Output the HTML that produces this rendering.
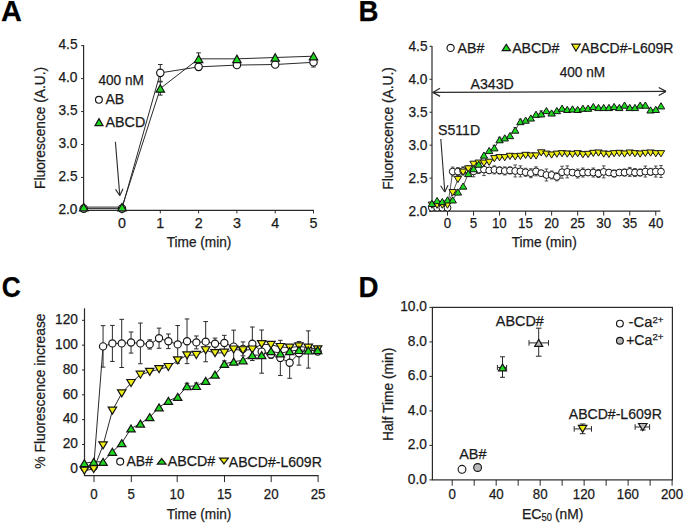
<!DOCTYPE html>
<html><head><meta charset="utf-8"><style>
html,body{margin:0;padding:0;background:#fff;}
svg{display:block;font-family:"Liberation Sans", sans-serif;}
text{stroke:#1a1a1a;stroke-width:0.25px;}
</style></head><body>
<svg width="685" height="524" viewBox="0 0 685 524">
<rect width="685" height="524" fill="#fff"/>
<text x="1.03" y="20.60" font-size="28.6" font-weight="bold" textLength="20.86" lengthAdjust="spacingAndGlyphs" fill="#000">A</text>
<line x1="83.60" y1="44.90" x2="83.60" y2="210.90" stroke="#2a2a2a" stroke-width="1.2"/>
<line x1="83.60" y1="210.40" x2="314.00" y2="210.40" stroke="#2a2a2a" stroke-width="1.2"/>
<line x1="81.10" y1="210.40" x2="83.60" y2="210.40" stroke="#2a2a2a" stroke-width="1"/>
<text x="58.43" y="214.10" font-size="14.3" font-weight="normal" textLength="19.08" lengthAdjust="spacingAndGlyphs" fill="#1a1a1a">2.0</text>
<line x1="81.10" y1="177.45" x2="83.60" y2="177.45" stroke="#2a2a2a" stroke-width="1"/>
<text x="58.47" y="181.15" font-size="14.3" font-weight="normal" textLength="19.08" lengthAdjust="spacingAndGlyphs" fill="#1a1a1a">2.5</text>
<line x1="81.10" y1="144.50" x2="83.60" y2="144.50" stroke="#2a2a2a" stroke-width="1"/>
<text x="58.43" y="148.20" font-size="14.3" font-weight="normal" textLength="19.08" lengthAdjust="spacingAndGlyphs" fill="#1a1a1a">3.0</text>
<line x1="81.10" y1="111.55" x2="83.60" y2="111.55" stroke="#2a2a2a" stroke-width="1"/>
<text x="58.47" y="115.25" font-size="14.3" font-weight="normal" textLength="19.08" lengthAdjust="spacingAndGlyphs" fill="#1a1a1a">3.5</text>
<line x1="81.10" y1="78.60" x2="83.60" y2="78.60" stroke="#2a2a2a" stroke-width="1"/>
<text x="58.43" y="82.30" font-size="14.3" font-weight="normal" textLength="19.08" lengthAdjust="spacingAndGlyphs" fill="#1a1a1a">4.0</text>
<line x1="81.10" y1="45.65" x2="83.60" y2="45.65" stroke="#2a2a2a" stroke-width="1"/>
<text x="58.47" y="49.35" font-size="14.3" font-weight="normal" textLength="19.08" lengthAdjust="spacingAndGlyphs" fill="#1a1a1a">4.5</text>
<line x1="122.00" y1="210.40" x2="122.00" y2="213.40" stroke="#2a2a2a" stroke-width="1"/>
<text x="118.01" y="227.80" font-size="14.3" font-weight="normal" textLength="7.95" lengthAdjust="spacingAndGlyphs" fill="#1a1a1a">0</text>
<line x1="160.30" y1="210.40" x2="160.30" y2="213.40" stroke="#2a2a2a" stroke-width="1"/>
<text x="156.14" y="227.80" font-size="14.3" font-weight="normal" textLength="7.95" lengthAdjust="spacingAndGlyphs" fill="#1a1a1a">1</text>
<line x1="198.60" y1="210.40" x2="198.60" y2="213.40" stroke="#2a2a2a" stroke-width="1"/>
<text x="194.63" y="227.80" font-size="14.3" font-weight="normal" textLength="7.95" lengthAdjust="spacingAndGlyphs" fill="#1a1a1a">2</text>
<line x1="236.90" y1="210.40" x2="236.90" y2="213.40" stroke="#2a2a2a" stroke-width="1"/>
<text x="232.97" y="227.80" font-size="14.3" font-weight="normal" textLength="7.95" lengthAdjust="spacingAndGlyphs" fill="#1a1a1a">3</text>
<line x1="275.20" y1="210.40" x2="275.20" y2="213.40" stroke="#2a2a2a" stroke-width="1"/>
<text x="271.27" y="227.80" font-size="14.3" font-weight="normal" textLength="7.95" lengthAdjust="spacingAndGlyphs" fill="#1a1a1a">4</text>
<line x1="313.50" y1="210.40" x2="313.50" y2="213.40" stroke="#2a2a2a" stroke-width="1"/>
<text x="309.53" y="227.80" font-size="14.3" font-weight="normal" textLength="7.95" lengthAdjust="spacingAndGlyphs" fill="#1a1a1a">5</text>
<text x="166.69" y="246.80" font-size="14.3" font-weight="normal" textLength="64.73" lengthAdjust="spacingAndGlyphs" fill="#1a1a1a">Time (min)</text>
<text transform="translate(45.00,188.93) rotate(-90)" x="0" y="0" font-size="14.3" font-weight="normal" textLength="122.05" lengthAdjust="spacingAndGlyphs" fill="#1a1a1a">Fluorescence (A.U.)</text>
<polyline points="83.70,208.62 122.00,208.62 160.30,72.87 198.60,66.87 236.90,65.09 275.20,64.50 313.50,62.32" fill="none" stroke="#2a2a2a" stroke-width="1" stroke-linejoin="round"/>
<polyline points="83.70,207.11 122.00,207.11 160.30,88.48 198.60,58.83 236.90,58.83 275.20,57.51 313.50,56.19" fill="none" stroke="#2a2a2a" stroke-width="1" stroke-linejoin="round"/>
<line x1="160.30" y1="64.47" x2="160.30" y2="81.27" stroke="#2a2a2a" stroke-width="1"/>
<line x1="158.00" y1="64.47" x2="162.60" y2="64.47" stroke="#2a2a2a" stroke-width="1"/>
<line x1="158.00" y1="81.27" x2="162.60" y2="81.27" stroke="#2a2a2a" stroke-width="1"/>
<line x1="160.30" y1="81.88" x2="160.30" y2="95.08" stroke="#2a2a2a" stroke-width="1"/>
<line x1="158.00" y1="81.88" x2="162.60" y2="81.88" stroke="#2a2a2a" stroke-width="1"/>
<line x1="158.00" y1="95.08" x2="162.60" y2="95.08" stroke="#2a2a2a" stroke-width="1"/>
<line x1="198.60" y1="52.83" x2="198.60" y2="64.83" stroke="#2a2a2a" stroke-width="1"/>
<line x1="196.30" y1="52.83" x2="200.90" y2="52.83" stroke="#2a2a2a" stroke-width="1"/>
<line x1="196.30" y1="64.83" x2="200.90" y2="64.83" stroke="#2a2a2a" stroke-width="1"/>
<line x1="198.60" y1="63.87" x2="198.60" y2="69.87" stroke="#2a2a2a" stroke-width="1"/>
<line x1="196.30" y1="63.87" x2="200.90" y2="63.87" stroke="#2a2a2a" stroke-width="1"/>
<line x1="196.30" y1="69.87" x2="200.90" y2="69.87" stroke="#2a2a2a" stroke-width="1"/>
<line x1="313.50" y1="57.62" x2="313.50" y2="67.02" stroke="#2a2a2a" stroke-width="1"/>
<line x1="311.20" y1="57.62" x2="315.80" y2="57.62" stroke="#2a2a2a" stroke-width="1"/>
<line x1="311.20" y1="67.02" x2="315.80" y2="67.02" stroke="#2a2a2a" stroke-width="1"/>
<circle cx="83.70" cy="208.62" r="3.7" fill="#fff" stroke="#151515" stroke-width="1.15"/>
<circle cx="122.00" cy="208.62" r="3.7" fill="#fff" stroke="#151515" stroke-width="1.15"/>
<circle cx="160.30" cy="72.87" r="3.7" fill="#fff" stroke="#151515" stroke-width="1.15"/>
<circle cx="198.60" cy="66.87" r="3.7" fill="#fff" stroke="#151515" stroke-width="1.15"/>
<circle cx="236.90" cy="65.09" r="3.7" fill="#fff" stroke="#151515" stroke-width="1.15"/>
<circle cx="275.20" cy="64.50" r="3.7" fill="#fff" stroke="#151515" stroke-width="1.15"/>
<circle cx="313.50" cy="62.32" r="3.7" fill="#fff" stroke="#151515" stroke-width="1.15"/>
<polygon points="83.70,203.41 87.90,210.81 79.50,210.81" fill="#1fd81f" stroke="#151515" stroke-width="1.2" stroke-linejoin="miter"/>
<polygon points="122.00,203.41 126.20,210.81 117.80,210.81" fill="#1fd81f" stroke="#151515" stroke-width="1.2" stroke-linejoin="miter"/>
<polygon points="160.30,84.78 164.50,92.18 156.10,92.18" fill="#1fd81f" stroke="#151515" stroke-width="1.2" stroke-linejoin="miter"/>
<polygon points="198.60,55.13 202.80,62.53 194.40,62.53" fill="#1fd81f" stroke="#151515" stroke-width="1.2" stroke-linejoin="miter"/>
<polygon points="236.90,55.13 241.10,62.53 232.70,62.53" fill="#1fd81f" stroke="#151515" stroke-width="1.2" stroke-linejoin="miter"/>
<polygon points="275.20,53.81 279.40,61.21 271.00,61.21" fill="#1fd81f" stroke="#151515" stroke-width="1.2" stroke-linejoin="miter"/>
<polygon points="313.50,52.49 317.70,59.89 309.30,59.89" fill="#1fd81f" stroke="#151515" stroke-width="1.2" stroke-linejoin="miter"/>
<text x="98.39" y="84.90" font-size="14.3" font-weight="normal" textLength="45.44" lengthAdjust="spacingAndGlyphs" fill="#1a1a1a">400 nM</text>
<circle cx="98.90" cy="99.80" r="3.4" fill="#fff" stroke="#151515" stroke-width="1.15"/>
<text x="105.46" y="103.80" font-size="14.3" font-weight="normal" textLength="18.76" lengthAdjust="spacingAndGlyphs" fill="#1a1a1a">AB</text>
<polygon points="99.00,118.60 103.00,125.60 95.00,125.60" fill="#1fd81f" stroke="#151515" stroke-width="1.2" stroke-linejoin="miter"/>
<text x="105.46" y="127.00" font-size="14.3" font-weight="normal" textLength="39.83" lengthAdjust="spacingAndGlyphs" fill="#1a1a1a">ABCD</text>
<line x1="115.40" y1="141.70" x2="119.80" y2="195.60" stroke="#2a2a2a" stroke-width="1.1"/>
<line x1="119.80" y1="195.60" x2="115.53" y2="189.43" stroke="#2a2a2a" stroke-width="1.1"/>
<line x1="119.80" y1="195.60" x2="123.01" y2="188.82" stroke="#2a2a2a" stroke-width="1.1"/>
<text x="358.43" y="20.80" font-size="28.6" font-weight="bold" textLength="20.01" lengthAdjust="spacingAndGlyphs" fill="#000">B</text>
<line x1="432.00" y1="46.10" x2="432.00" y2="211.60" stroke="#2a2a2a" stroke-width="1.2"/>
<line x1="429.00" y1="211.10" x2="660.50" y2="211.10" stroke="#2a2a2a" stroke-width="1.2"/>
<line x1="429.50" y1="211.10" x2="432.00" y2="211.10" stroke="#2a2a2a" stroke-width="1"/>
<text x="408.43" y="216.10" font-size="14.3" font-weight="normal" textLength="19.08" lengthAdjust="spacingAndGlyphs" fill="#1a1a1a">2.0</text>
<line x1="429.50" y1="178.14" x2="432.00" y2="178.14" stroke="#2a2a2a" stroke-width="1"/>
<text x="408.47" y="183.14" font-size="14.3" font-weight="normal" textLength="19.08" lengthAdjust="spacingAndGlyphs" fill="#1a1a1a">2.5</text>
<line x1="429.50" y1="145.18" x2="432.00" y2="145.18" stroke="#2a2a2a" stroke-width="1"/>
<text x="408.43" y="150.18" font-size="14.3" font-weight="normal" textLength="19.08" lengthAdjust="spacingAndGlyphs" fill="#1a1a1a">3.0</text>
<line x1="429.50" y1="112.22" x2="432.00" y2="112.22" stroke="#2a2a2a" stroke-width="1"/>
<text x="408.47" y="117.22" font-size="14.3" font-weight="normal" textLength="19.08" lengthAdjust="spacingAndGlyphs" fill="#1a1a1a">3.5</text>
<line x1="429.50" y1="79.26" x2="432.00" y2="79.26" stroke="#2a2a2a" stroke-width="1"/>
<text x="408.43" y="84.26" font-size="14.3" font-weight="normal" textLength="19.08" lengthAdjust="spacingAndGlyphs" fill="#1a1a1a">4.0</text>
<line x1="429.50" y1="46.30" x2="432.00" y2="46.30" stroke="#2a2a2a" stroke-width="1"/>
<text x="408.47" y="51.30" font-size="14.3" font-weight="normal" textLength="19.08" lengthAdjust="spacingAndGlyphs" fill="#1a1a1a">4.5</text>
<line x1="447.50" y1="211.10" x2="447.50" y2="215.60" stroke="#2a2a2a" stroke-width="1"/>
<text x="443.79" y="227.80" font-size="14.3" font-weight="normal" textLength="7.40" lengthAdjust="spacingAndGlyphs" fill="#1a1a1a">0</text>
<line x1="473.54" y1="211.10" x2="473.54" y2="215.60" stroke="#2a2a2a" stroke-width="1"/>
<text x="469.84" y="227.80" font-size="14.3" font-weight="normal" textLength="7.40" lengthAdjust="spacingAndGlyphs" fill="#1a1a1a">5</text>
<line x1="499.57" y1="211.10" x2="499.57" y2="215.60" stroke="#2a2a2a" stroke-width="1"/>
<text x="491.94" y="227.80" font-size="14.3" font-weight="normal" textLength="14.79" lengthAdjust="spacingAndGlyphs" fill="#1a1a1a">10</text>
<line x1="525.61" y1="211.10" x2="525.61" y2="215.60" stroke="#2a2a2a" stroke-width="1"/>
<text x="517.99" y="227.80" font-size="14.3" font-weight="normal" textLength="14.79" lengthAdjust="spacingAndGlyphs" fill="#1a1a1a">15</text>
<line x1="551.64" y1="211.10" x2="551.64" y2="215.60" stroke="#2a2a2a" stroke-width="1"/>
<text x="544.18" y="227.80" font-size="14.3" font-weight="normal" textLength="14.79" lengthAdjust="spacingAndGlyphs" fill="#1a1a1a">20</text>
<line x1="577.67" y1="211.10" x2="577.67" y2="215.60" stroke="#2a2a2a" stroke-width="1"/>
<text x="570.23" y="227.80" font-size="14.3" font-weight="normal" textLength="14.79" lengthAdjust="spacingAndGlyphs" fill="#1a1a1a">25</text>
<line x1="603.71" y1="211.10" x2="603.71" y2="215.60" stroke="#2a2a2a" stroke-width="1"/>
<text x="596.33" y="227.80" font-size="14.3" font-weight="normal" textLength="14.79" lengthAdjust="spacingAndGlyphs" fill="#1a1a1a">30</text>
<line x1="629.75" y1="211.10" x2="629.75" y2="215.60" stroke="#2a2a2a" stroke-width="1"/>
<text x="622.38" y="227.80" font-size="14.3" font-weight="normal" textLength="14.79" lengthAdjust="spacingAndGlyphs" fill="#1a1a1a">35</text>
<line x1="655.78" y1="211.10" x2="655.78" y2="215.60" stroke="#2a2a2a" stroke-width="1"/>
<text x="648.50" y="227.80" font-size="14.3" font-weight="normal" textLength="14.79" lengthAdjust="spacingAndGlyphs" fill="#1a1a1a">40</text>
<text x="511.69" y="246.70" font-size="14.3" font-weight="normal" textLength="65.14" lengthAdjust="spacingAndGlyphs" fill="#1a1a1a">Time (min)</text>
<text transform="translate(393.30,189.74) rotate(-90)" x="0" y="0" font-size="14.3" font-weight="normal" textLength="122.66" lengthAdjust="spacingAndGlyphs" fill="#1a1a1a">Fluorescence (A.U.)</text>
<polyline points="431.88,207.80 437.09,207.80 442.29,207.80 447.50,207.80 452.71,171.55 457.91,171.55 463.12,170.89 468.33,170.23 473.54,171.35 478.74,169.57 483.95,169.57 489.16,170.43 494.36,169.90 499.57,170.43 504.78,170.95 509.98,170.43 515.19,170.95 520.40,171.35 525.61,172.27 530.81,173.20 536.02,171.35 541.23,173.20 546.43,174.98 551.64,174.98 556.85,176.82 562.05,172.21 567.26,171.88 572.47,172.54 577.67,173.53 582.88,172.54 588.09,172.54 593.30,172.54 598.50,173.53 603.71,171.88 608.92,172.54 614.12,173.53 619.33,172.54 624.54,172.54 629.75,171.88 634.95,172.54 640.16,172.54 645.37,171.55 650.57,171.88 655.78,171.55 660.99,171.55" fill="none" stroke="#2a2a2a" stroke-width="0.8" stroke-linejoin="round"/>
<polyline points="431.88,205.17 437.09,205.17 442.29,205.17 447.50,205.17 452.71,192.64 457.91,179.46 463.12,172.21 468.33,168.91 473.54,164.30 478.74,163.18 483.95,163.18 489.16,162.32 494.36,158.69 499.57,157.70 504.78,157.70 509.98,156.39 515.19,156.78 520.40,156.39 525.61,155.40 530.81,155.99 536.02,155.99 541.23,152.89 546.43,154.21 551.64,155.07 556.85,154.21 562.05,153.75 567.26,154.08 572.47,154.41 577.67,153.75 582.88,154.74 588.09,154.41 593.30,153.42 598.50,153.09 603.71,154.08 608.92,154.41 614.12,153.75 619.33,153.42 624.54,154.08 629.75,153.09 634.95,153.75 640.16,154.08 645.37,153.42 650.57,153.09 655.78,153.75 660.99,153.75" fill="none" stroke="#2a2a2a" stroke-width="0.8" stroke-linejoin="round"/>
<polyline points="431.88,203.39 437.09,200.55 442.29,201.54 447.50,199.89 452.71,199.89 457.91,191.98 463.12,186.05 468.33,173.53 473.54,168.65 478.74,164.16 483.95,155.07 489.16,150.52 494.36,147.82 499.57,139.71 504.78,137.86 509.98,135.56 515.19,130.08 520.40,121.58 525.61,120.13 530.81,117.96 536.02,114.26 541.23,113.80 546.43,110.57 551.64,112.95 556.85,110.57 562.05,108.20 567.26,109.39 572.47,108.92 577.67,109.39 582.88,108.20 588.09,108.20 593.30,106.48 598.50,107.47 603.71,107.47 608.92,107.47 614.12,106.48 619.33,107.47 624.54,105.10 629.75,107.47 634.95,107.47 640.16,105.10 645.37,105.10 650.57,109.91 655.78,109.39 660.99,105.83" fill="none" stroke="#2a2a2a" stroke-width="0.8" stroke-linejoin="round"/>
<line x1="452.71" y1="167.05" x2="452.71" y2="176.05" stroke="#2a2a2a" stroke-width="0.8"/>
<line x1="450.91" y1="167.05" x2="454.51" y2="167.05" stroke="#2a2a2a" stroke-width="0.8"/>
<line x1="450.91" y1="176.05" x2="454.51" y2="176.05" stroke="#2a2a2a" stroke-width="0.8"/>
<line x1="457.91" y1="167.55" x2="457.91" y2="175.55" stroke="#2a2a2a" stroke-width="0.8"/>
<line x1="456.11" y1="167.55" x2="459.71" y2="167.55" stroke="#2a2a2a" stroke-width="0.8"/>
<line x1="456.11" y1="175.55" x2="459.71" y2="175.55" stroke="#2a2a2a" stroke-width="0.8"/>
<line x1="463.12" y1="166.89" x2="463.12" y2="174.89" stroke="#2a2a2a" stroke-width="0.8"/>
<line x1="461.32" y1="166.89" x2="464.92" y2="166.89" stroke="#2a2a2a" stroke-width="0.8"/>
<line x1="461.32" y1="174.89" x2="464.92" y2="174.89" stroke="#2a2a2a" stroke-width="0.8"/>
<line x1="468.33" y1="165.73" x2="468.33" y2="174.73" stroke="#2a2a2a" stroke-width="0.8"/>
<line x1="466.53" y1="165.73" x2="470.13" y2="165.73" stroke="#2a2a2a" stroke-width="0.8"/>
<line x1="466.53" y1="174.73" x2="470.13" y2="174.73" stroke="#2a2a2a" stroke-width="0.8"/>
<line x1="473.54" y1="165.85" x2="473.54" y2="176.85" stroke="#2a2a2a" stroke-width="0.8"/>
<line x1="471.74" y1="165.85" x2="475.34" y2="165.85" stroke="#2a2a2a" stroke-width="0.8"/>
<line x1="471.74" y1="176.85" x2="475.34" y2="176.85" stroke="#2a2a2a" stroke-width="0.8"/>
<line x1="478.74" y1="165.57" x2="478.74" y2="173.57" stroke="#2a2a2a" stroke-width="0.8"/>
<line x1="476.94" y1="165.57" x2="480.54" y2="165.57" stroke="#2a2a2a" stroke-width="0.8"/>
<line x1="476.94" y1="173.57" x2="480.54" y2="173.57" stroke="#2a2a2a" stroke-width="0.8"/>
<line x1="483.95" y1="163.57" x2="483.95" y2="175.57" stroke="#2a2a2a" stroke-width="0.8"/>
<line x1="482.15" y1="163.57" x2="485.75" y2="163.57" stroke="#2a2a2a" stroke-width="0.8"/>
<line x1="482.15" y1="175.57" x2="485.75" y2="175.57" stroke="#2a2a2a" stroke-width="0.8"/>
<line x1="489.16" y1="167.43" x2="489.16" y2="173.43" stroke="#2a2a2a" stroke-width="0.8"/>
<line x1="487.36" y1="167.43" x2="490.96" y2="167.43" stroke="#2a2a2a" stroke-width="0.8"/>
<line x1="487.36" y1="173.43" x2="490.96" y2="173.43" stroke="#2a2a2a" stroke-width="0.8"/>
<line x1="494.36" y1="165.90" x2="494.36" y2="173.90" stroke="#2a2a2a" stroke-width="0.8"/>
<line x1="492.56" y1="165.90" x2="496.16" y2="165.90" stroke="#2a2a2a" stroke-width="0.8"/>
<line x1="492.56" y1="173.90" x2="496.16" y2="173.90" stroke="#2a2a2a" stroke-width="0.8"/>
<line x1="499.57" y1="166.93" x2="499.57" y2="173.93" stroke="#2a2a2a" stroke-width="0.8"/>
<line x1="497.77" y1="166.93" x2="501.37" y2="166.93" stroke="#2a2a2a" stroke-width="0.8"/>
<line x1="497.77" y1="173.93" x2="501.37" y2="173.93" stroke="#2a2a2a" stroke-width="0.8"/>
<line x1="504.78" y1="166.95" x2="504.78" y2="174.95" stroke="#2a2a2a" stroke-width="0.8"/>
<line x1="502.98" y1="166.95" x2="506.58" y2="166.95" stroke="#2a2a2a" stroke-width="0.8"/>
<line x1="502.98" y1="174.95" x2="506.58" y2="174.95" stroke="#2a2a2a" stroke-width="0.8"/>
<line x1="509.98" y1="166.93" x2="509.98" y2="173.93" stroke="#2a2a2a" stroke-width="0.8"/>
<line x1="508.18" y1="166.93" x2="511.78" y2="166.93" stroke="#2a2a2a" stroke-width="0.8"/>
<line x1="508.18" y1="173.93" x2="511.78" y2="173.93" stroke="#2a2a2a" stroke-width="0.8"/>
<line x1="515.19" y1="164.95" x2="515.19" y2="176.95" stroke="#2a2a2a" stroke-width="0.8"/>
<line x1="513.39" y1="164.95" x2="516.99" y2="164.95" stroke="#2a2a2a" stroke-width="0.8"/>
<line x1="513.39" y1="176.95" x2="516.99" y2="176.95" stroke="#2a2a2a" stroke-width="0.8"/>
<line x1="520.40" y1="165.85" x2="520.40" y2="176.85" stroke="#2a2a2a" stroke-width="0.8"/>
<line x1="518.60" y1="165.85" x2="522.20" y2="165.85" stroke="#2a2a2a" stroke-width="0.8"/>
<line x1="518.60" y1="176.85" x2="522.20" y2="176.85" stroke="#2a2a2a" stroke-width="0.8"/>
<line x1="525.61" y1="168.27" x2="525.61" y2="176.27" stroke="#2a2a2a" stroke-width="0.8"/>
<line x1="523.81" y1="168.27" x2="527.40" y2="168.27" stroke="#2a2a2a" stroke-width="0.8"/>
<line x1="523.81" y1="176.27" x2="527.40" y2="176.27" stroke="#2a2a2a" stroke-width="0.8"/>
<line x1="530.81" y1="168.70" x2="530.81" y2="177.70" stroke="#2a2a2a" stroke-width="0.8"/>
<line x1="529.01" y1="168.70" x2="532.61" y2="168.70" stroke="#2a2a2a" stroke-width="0.8"/>
<line x1="529.01" y1="177.70" x2="532.61" y2="177.70" stroke="#2a2a2a" stroke-width="0.8"/>
<line x1="536.02" y1="166.85" x2="536.02" y2="175.85" stroke="#2a2a2a" stroke-width="0.8"/>
<line x1="534.22" y1="166.85" x2="537.82" y2="166.85" stroke="#2a2a2a" stroke-width="0.8"/>
<line x1="534.22" y1="175.85" x2="537.82" y2="175.85" stroke="#2a2a2a" stroke-width="0.8"/>
<line x1="541.23" y1="170.20" x2="541.23" y2="176.20" stroke="#2a2a2a" stroke-width="0.8"/>
<line x1="539.43" y1="170.20" x2="543.03" y2="170.20" stroke="#2a2a2a" stroke-width="0.8"/>
<line x1="539.43" y1="176.20" x2="543.03" y2="176.20" stroke="#2a2a2a" stroke-width="0.8"/>
<line x1="546.43" y1="168.98" x2="546.43" y2="180.98" stroke="#2a2a2a" stroke-width="0.8"/>
<line x1="544.63" y1="168.98" x2="548.23" y2="168.98" stroke="#2a2a2a" stroke-width="0.8"/>
<line x1="544.63" y1="180.98" x2="548.23" y2="180.98" stroke="#2a2a2a" stroke-width="0.8"/>
<line x1="551.64" y1="170.98" x2="551.64" y2="178.98" stroke="#2a2a2a" stroke-width="0.8"/>
<line x1="549.84" y1="170.98" x2="553.44" y2="170.98" stroke="#2a2a2a" stroke-width="0.8"/>
<line x1="549.84" y1="178.98" x2="553.44" y2="178.98" stroke="#2a2a2a" stroke-width="0.8"/>
<line x1="556.85" y1="172.82" x2="556.85" y2="180.82" stroke="#2a2a2a" stroke-width="0.8"/>
<line x1="555.05" y1="172.82" x2="558.65" y2="172.82" stroke="#2a2a2a" stroke-width="0.8"/>
<line x1="555.05" y1="180.82" x2="558.65" y2="180.82" stroke="#2a2a2a" stroke-width="0.8"/>
<line x1="562.05" y1="166.21" x2="562.05" y2="178.21" stroke="#2a2a2a" stroke-width="0.8"/>
<line x1="560.25" y1="166.21" x2="563.85" y2="166.21" stroke="#2a2a2a" stroke-width="0.8"/>
<line x1="560.25" y1="178.21" x2="563.85" y2="178.21" stroke="#2a2a2a" stroke-width="0.8"/>
<line x1="567.26" y1="165.88" x2="567.26" y2="177.88" stroke="#2a2a2a" stroke-width="0.8"/>
<line x1="565.46" y1="165.88" x2="569.06" y2="165.88" stroke="#2a2a2a" stroke-width="0.8"/>
<line x1="565.46" y1="177.88" x2="569.06" y2="177.88" stroke="#2a2a2a" stroke-width="0.8"/>
<line x1="572.47" y1="169.54" x2="572.47" y2="175.54" stroke="#2a2a2a" stroke-width="0.8"/>
<line x1="570.67" y1="169.54" x2="574.27" y2="169.54" stroke="#2a2a2a" stroke-width="0.8"/>
<line x1="570.67" y1="175.54" x2="574.27" y2="175.54" stroke="#2a2a2a" stroke-width="0.8"/>
<line x1="577.67" y1="169.03" x2="577.67" y2="178.03" stroke="#2a2a2a" stroke-width="0.8"/>
<line x1="575.88" y1="169.03" x2="579.47" y2="169.03" stroke="#2a2a2a" stroke-width="0.8"/>
<line x1="575.88" y1="178.03" x2="579.47" y2="178.03" stroke="#2a2a2a" stroke-width="0.8"/>
<line x1="582.88" y1="168.04" x2="582.88" y2="177.04" stroke="#2a2a2a" stroke-width="0.8"/>
<line x1="581.08" y1="168.04" x2="584.68" y2="168.04" stroke="#2a2a2a" stroke-width="0.8"/>
<line x1="581.08" y1="177.04" x2="584.68" y2="177.04" stroke="#2a2a2a" stroke-width="0.8"/>
<line x1="588.09" y1="169.54" x2="588.09" y2="175.54" stroke="#2a2a2a" stroke-width="0.8"/>
<line x1="586.29" y1="169.54" x2="589.89" y2="169.54" stroke="#2a2a2a" stroke-width="0.8"/>
<line x1="586.29" y1="175.54" x2="589.89" y2="175.54" stroke="#2a2a2a" stroke-width="0.8"/>
<line x1="593.30" y1="168.04" x2="593.30" y2="177.04" stroke="#2a2a2a" stroke-width="0.8"/>
<line x1="591.50" y1="168.04" x2="595.10" y2="168.04" stroke="#2a2a2a" stroke-width="0.8"/>
<line x1="591.50" y1="177.04" x2="595.10" y2="177.04" stroke="#2a2a2a" stroke-width="0.8"/>
<line x1="598.50" y1="169.53" x2="598.50" y2="177.53" stroke="#2a2a2a" stroke-width="0.8"/>
<line x1="596.70" y1="169.53" x2="600.30" y2="169.53" stroke="#2a2a2a" stroke-width="0.8"/>
<line x1="596.70" y1="177.53" x2="600.30" y2="177.53" stroke="#2a2a2a" stroke-width="0.8"/>
<line x1="603.71" y1="165.88" x2="603.71" y2="177.88" stroke="#2a2a2a" stroke-width="0.8"/>
<line x1="601.91" y1="165.88" x2="605.51" y2="165.88" stroke="#2a2a2a" stroke-width="0.8"/>
<line x1="601.91" y1="177.88" x2="605.51" y2="177.88" stroke="#2a2a2a" stroke-width="0.8"/>
<line x1="608.92" y1="169.54" x2="608.92" y2="175.54" stroke="#2a2a2a" stroke-width="0.8"/>
<line x1="607.12" y1="169.54" x2="610.72" y2="169.54" stroke="#2a2a2a" stroke-width="0.8"/>
<line x1="607.12" y1="175.54" x2="610.72" y2="175.54" stroke="#2a2a2a" stroke-width="0.8"/>
<line x1="614.12" y1="170.03" x2="614.12" y2="177.03" stroke="#2a2a2a" stroke-width="0.8"/>
<line x1="612.32" y1="170.03" x2="615.92" y2="170.03" stroke="#2a2a2a" stroke-width="0.8"/>
<line x1="612.32" y1="177.03" x2="615.92" y2="177.03" stroke="#2a2a2a" stroke-width="0.8"/>
<line x1="619.33" y1="169.54" x2="619.33" y2="175.54" stroke="#2a2a2a" stroke-width="0.8"/>
<line x1="617.53" y1="169.54" x2="621.13" y2="169.54" stroke="#2a2a2a" stroke-width="0.8"/>
<line x1="617.53" y1="175.54" x2="621.13" y2="175.54" stroke="#2a2a2a" stroke-width="0.8"/>
<line x1="624.54" y1="169.04" x2="624.54" y2="176.04" stroke="#2a2a2a" stroke-width="0.8"/>
<line x1="622.74" y1="169.04" x2="626.34" y2="169.04" stroke="#2a2a2a" stroke-width="0.8"/>
<line x1="622.74" y1="176.04" x2="626.34" y2="176.04" stroke="#2a2a2a" stroke-width="0.8"/>
<line x1="629.75" y1="167.38" x2="629.75" y2="176.38" stroke="#2a2a2a" stroke-width="0.8"/>
<line x1="627.95" y1="167.38" x2="631.54" y2="167.38" stroke="#2a2a2a" stroke-width="0.8"/>
<line x1="627.95" y1="176.38" x2="631.54" y2="176.38" stroke="#2a2a2a" stroke-width="0.8"/>
<line x1="634.95" y1="168.54" x2="634.95" y2="176.54" stroke="#2a2a2a" stroke-width="0.8"/>
<line x1="633.15" y1="168.54" x2="636.75" y2="168.54" stroke="#2a2a2a" stroke-width="0.8"/>
<line x1="633.15" y1="176.54" x2="636.75" y2="176.54" stroke="#2a2a2a" stroke-width="0.8"/>
<line x1="640.16" y1="169.04" x2="640.16" y2="176.04" stroke="#2a2a2a" stroke-width="0.8"/>
<line x1="638.36" y1="169.04" x2="641.96" y2="169.04" stroke="#2a2a2a" stroke-width="0.8"/>
<line x1="638.36" y1="176.04" x2="641.96" y2="176.04" stroke="#2a2a2a" stroke-width="0.8"/>
<line x1="645.37" y1="166.05" x2="645.37" y2="177.05" stroke="#2a2a2a" stroke-width="0.8"/>
<line x1="643.57" y1="166.05" x2="647.17" y2="166.05" stroke="#2a2a2a" stroke-width="0.8"/>
<line x1="643.57" y1="177.05" x2="647.17" y2="177.05" stroke="#2a2a2a" stroke-width="0.8"/>
<line x1="650.57" y1="168.38" x2="650.57" y2="175.38" stroke="#2a2a2a" stroke-width="0.8"/>
<line x1="648.77" y1="168.38" x2="652.37" y2="168.38" stroke="#2a2a2a" stroke-width="0.8"/>
<line x1="648.77" y1="175.38" x2="652.37" y2="175.38" stroke="#2a2a2a" stroke-width="0.8"/>
<line x1="655.78" y1="166.05" x2="655.78" y2="177.05" stroke="#2a2a2a" stroke-width="0.8"/>
<line x1="653.98" y1="166.05" x2="657.58" y2="166.05" stroke="#2a2a2a" stroke-width="0.8"/>
<line x1="653.98" y1="177.05" x2="657.58" y2="177.05" stroke="#2a2a2a" stroke-width="0.8"/>
<line x1="660.99" y1="165.55" x2="660.99" y2="177.55" stroke="#2a2a2a" stroke-width="0.8"/>
<line x1="659.19" y1="165.55" x2="662.79" y2="165.55" stroke="#2a2a2a" stroke-width="0.8"/>
<line x1="659.19" y1="177.55" x2="662.79" y2="177.55" stroke="#2a2a2a" stroke-width="0.8"/>
<line x1="494.36" y1="145.32" x2="494.36" y2="150.32" stroke="#2a2a2a" stroke-width="0.8"/>
<line x1="492.56" y1="145.32" x2="496.16" y2="145.32" stroke="#2a2a2a" stroke-width="0.8"/>
<line x1="492.56" y1="150.32" x2="496.16" y2="150.32" stroke="#2a2a2a" stroke-width="0.8"/>
<line x1="499.57" y1="137.21" x2="499.57" y2="142.21" stroke="#2a2a2a" stroke-width="0.8"/>
<line x1="497.77" y1="137.21" x2="501.37" y2="137.21" stroke="#2a2a2a" stroke-width="0.8"/>
<line x1="497.77" y1="142.21" x2="501.37" y2="142.21" stroke="#2a2a2a" stroke-width="0.8"/>
<line x1="515.19" y1="127.58" x2="515.19" y2="132.58" stroke="#2a2a2a" stroke-width="0.8"/>
<line x1="513.39" y1="127.58" x2="516.99" y2="127.58" stroke="#2a2a2a" stroke-width="0.8"/>
<line x1="513.39" y1="132.58" x2="516.99" y2="132.58" stroke="#2a2a2a" stroke-width="0.8"/>
<line x1="520.40" y1="119.08" x2="520.40" y2="124.08" stroke="#2a2a2a" stroke-width="0.8"/>
<line x1="518.60" y1="119.08" x2="522.20" y2="119.08" stroke="#2a2a2a" stroke-width="0.8"/>
<line x1="518.60" y1="124.08" x2="522.20" y2="124.08" stroke="#2a2a2a" stroke-width="0.8"/>
<line x1="541.23" y1="110.80" x2="541.23" y2="116.80" stroke="#2a2a2a" stroke-width="0.8"/>
<line x1="539.43" y1="110.80" x2="543.03" y2="110.80" stroke="#2a2a2a" stroke-width="0.8"/>
<line x1="539.43" y1="116.80" x2="543.03" y2="116.80" stroke="#2a2a2a" stroke-width="0.8"/>
<circle cx="431.88" cy="207.80" r="3.4" fill="#fff" stroke="#151515" stroke-width="1.0"/>
<circle cx="437.09" cy="207.80" r="3.4" fill="#fff" stroke="#151515" stroke-width="1.0"/>
<circle cx="442.29" cy="207.80" r="3.4" fill="#fff" stroke="#151515" stroke-width="1.0"/>
<circle cx="447.50" cy="207.80" r="3.4" fill="#fff" stroke="#151515" stroke-width="1.0"/>
<circle cx="452.71" cy="171.55" r="3.4" fill="#fff" stroke="#151515" stroke-width="1.0"/>
<circle cx="457.91" cy="171.55" r="3.4" fill="#fff" stroke="#151515" stroke-width="1.0"/>
<circle cx="463.12" cy="170.89" r="3.4" fill="#fff" stroke="#151515" stroke-width="1.0"/>
<circle cx="468.33" cy="170.23" r="3.4" fill="#fff" stroke="#151515" stroke-width="1.0"/>
<circle cx="473.54" cy="171.35" r="3.4" fill="#fff" stroke="#151515" stroke-width="1.0"/>
<circle cx="478.74" cy="169.57" r="3.4" fill="#fff" stroke="#151515" stroke-width="1.0"/>
<circle cx="483.95" cy="169.57" r="3.4" fill="#fff" stroke="#151515" stroke-width="1.0"/>
<circle cx="489.16" cy="170.43" r="3.4" fill="#fff" stroke="#151515" stroke-width="1.0"/>
<circle cx="494.36" cy="169.90" r="3.4" fill="#fff" stroke="#151515" stroke-width="1.0"/>
<circle cx="499.57" cy="170.43" r="3.4" fill="#fff" stroke="#151515" stroke-width="1.0"/>
<circle cx="504.78" cy="170.95" r="3.4" fill="#fff" stroke="#151515" stroke-width="1.0"/>
<circle cx="509.98" cy="170.43" r="3.4" fill="#fff" stroke="#151515" stroke-width="1.0"/>
<circle cx="515.19" cy="170.95" r="3.4" fill="#fff" stroke="#151515" stroke-width="1.0"/>
<circle cx="520.40" cy="171.35" r="3.4" fill="#fff" stroke="#151515" stroke-width="1.0"/>
<circle cx="525.61" cy="172.27" r="3.4" fill="#fff" stroke="#151515" stroke-width="1.0"/>
<circle cx="530.81" cy="173.20" r="3.4" fill="#fff" stroke="#151515" stroke-width="1.0"/>
<circle cx="536.02" cy="171.35" r="3.4" fill="#fff" stroke="#151515" stroke-width="1.0"/>
<circle cx="541.23" cy="173.20" r="3.4" fill="#fff" stroke="#151515" stroke-width="1.0"/>
<circle cx="546.43" cy="174.98" r="3.4" fill="#fff" stroke="#151515" stroke-width="1.0"/>
<circle cx="551.64" cy="174.98" r="3.4" fill="#fff" stroke="#151515" stroke-width="1.0"/>
<circle cx="556.85" cy="176.82" r="3.4" fill="#fff" stroke="#151515" stroke-width="1.0"/>
<circle cx="562.05" cy="172.21" r="3.4" fill="#fff" stroke="#151515" stroke-width="1.0"/>
<circle cx="567.26" cy="171.88" r="3.4" fill="#fff" stroke="#151515" stroke-width="1.0"/>
<circle cx="572.47" cy="172.54" r="3.4" fill="#fff" stroke="#151515" stroke-width="1.0"/>
<circle cx="577.67" cy="173.53" r="3.4" fill="#fff" stroke="#151515" stroke-width="1.0"/>
<circle cx="582.88" cy="172.54" r="3.4" fill="#fff" stroke="#151515" stroke-width="1.0"/>
<circle cx="588.09" cy="172.54" r="3.4" fill="#fff" stroke="#151515" stroke-width="1.0"/>
<circle cx="593.30" cy="172.54" r="3.4" fill="#fff" stroke="#151515" stroke-width="1.0"/>
<circle cx="598.50" cy="173.53" r="3.4" fill="#fff" stroke="#151515" stroke-width="1.0"/>
<circle cx="603.71" cy="171.88" r="3.4" fill="#fff" stroke="#151515" stroke-width="1.0"/>
<circle cx="608.92" cy="172.54" r="3.4" fill="#fff" stroke="#151515" stroke-width="1.0"/>
<circle cx="614.12" cy="173.53" r="3.4" fill="#fff" stroke="#151515" stroke-width="1.0"/>
<circle cx="619.33" cy="172.54" r="3.4" fill="#fff" stroke="#151515" stroke-width="1.0"/>
<circle cx="624.54" cy="172.54" r="3.4" fill="#fff" stroke="#151515" stroke-width="1.0"/>
<circle cx="629.75" cy="171.88" r="3.4" fill="#fff" stroke="#151515" stroke-width="1.0"/>
<circle cx="634.95" cy="172.54" r="3.4" fill="#fff" stroke="#151515" stroke-width="1.0"/>
<circle cx="640.16" cy="172.54" r="3.4" fill="#fff" stroke="#151515" stroke-width="1.0"/>
<circle cx="645.37" cy="171.55" r="3.4" fill="#fff" stroke="#151515" stroke-width="1.0"/>
<circle cx="650.57" cy="171.88" r="3.4" fill="#fff" stroke="#151515" stroke-width="1.0"/>
<circle cx="655.78" cy="171.55" r="3.4" fill="#fff" stroke="#151515" stroke-width="1.0"/>
<circle cx="660.99" cy="171.55" r="3.4" fill="#fff" stroke="#151515" stroke-width="1.0"/>
<polygon points="431.88,208.27 435.58,202.07 428.18,202.07" fill="#f0ee10" stroke="#151515" stroke-width="1.0" stroke-linejoin="miter"/>
<polygon points="437.09,208.27 440.79,202.07 433.39,202.07" fill="#f0ee10" stroke="#151515" stroke-width="1.0" stroke-linejoin="miter"/>
<polygon points="442.29,208.27 445.99,202.07 438.59,202.07" fill="#f0ee10" stroke="#151515" stroke-width="1.0" stroke-linejoin="miter"/>
<polygon points="447.50,208.27 451.20,202.07 443.80,202.07" fill="#f0ee10" stroke="#151515" stroke-width="1.0" stroke-linejoin="miter"/>
<polygon points="452.71,195.74 456.41,189.54 449.01,189.54" fill="#f0ee10" stroke="#151515" stroke-width="1.0" stroke-linejoin="miter"/>
<polygon points="457.91,182.56 461.61,176.36 454.21,176.36" fill="#f0ee10" stroke="#151515" stroke-width="1.0" stroke-linejoin="miter"/>
<polygon points="463.12,175.31 466.82,169.11 459.42,169.11" fill="#f0ee10" stroke="#151515" stroke-width="1.0" stroke-linejoin="miter"/>
<polygon points="468.33,172.01 472.03,165.81 464.63,165.81" fill="#f0ee10" stroke="#151515" stroke-width="1.0" stroke-linejoin="miter"/>
<polygon points="473.54,167.40 477.24,161.20 469.84,161.20" fill="#f0ee10" stroke="#151515" stroke-width="1.0" stroke-linejoin="miter"/>
<polygon points="478.74,166.28 482.44,160.08 475.04,160.08" fill="#f0ee10" stroke="#151515" stroke-width="1.0" stroke-linejoin="miter"/>
<polygon points="483.95,166.28 487.65,160.08 480.25,160.08" fill="#f0ee10" stroke="#151515" stroke-width="1.0" stroke-linejoin="miter"/>
<polygon points="489.16,165.42 492.86,159.22 485.46,159.22" fill="#f0ee10" stroke="#151515" stroke-width="1.0" stroke-linejoin="miter"/>
<polygon points="494.36,161.79 498.06,155.59 490.66,155.59" fill="#f0ee10" stroke="#151515" stroke-width="1.0" stroke-linejoin="miter"/>
<polygon points="499.57,160.80 503.27,154.60 495.87,154.60" fill="#f0ee10" stroke="#151515" stroke-width="1.0" stroke-linejoin="miter"/>
<polygon points="504.78,160.80 508.48,154.60 501.08,154.60" fill="#f0ee10" stroke="#151515" stroke-width="1.0" stroke-linejoin="miter"/>
<polygon points="509.98,159.49 513.68,153.29 506.28,153.29" fill="#f0ee10" stroke="#151515" stroke-width="1.0" stroke-linejoin="miter"/>
<polygon points="515.19,159.88 518.89,153.68 511.49,153.68" fill="#f0ee10" stroke="#151515" stroke-width="1.0" stroke-linejoin="miter"/>
<polygon points="520.40,159.49 524.10,153.29 516.70,153.29" fill="#f0ee10" stroke="#151515" stroke-width="1.0" stroke-linejoin="miter"/>
<polygon points="525.61,158.50 529.31,152.30 521.90,152.30" fill="#f0ee10" stroke="#151515" stroke-width="1.0" stroke-linejoin="miter"/>
<polygon points="530.81,159.09 534.51,152.89 527.11,152.89" fill="#f0ee10" stroke="#151515" stroke-width="1.0" stroke-linejoin="miter"/>
<polygon points="536.02,159.09 539.72,152.89 532.32,152.89" fill="#f0ee10" stroke="#151515" stroke-width="1.0" stroke-linejoin="miter"/>
<polygon points="541.23,155.99 544.93,149.79 537.53,149.79" fill="#f0ee10" stroke="#151515" stroke-width="1.0" stroke-linejoin="miter"/>
<polygon points="546.43,157.31 550.13,151.11 542.73,151.11" fill="#f0ee10" stroke="#151515" stroke-width="1.0" stroke-linejoin="miter"/>
<polygon points="551.64,158.17 555.34,151.97 547.94,151.97" fill="#f0ee10" stroke="#151515" stroke-width="1.0" stroke-linejoin="miter"/>
<polygon points="556.85,157.31 560.55,151.11 553.15,151.11" fill="#f0ee10" stroke="#151515" stroke-width="1.0" stroke-linejoin="miter"/>
<polygon points="562.05,156.85 565.75,150.65 558.35,150.65" fill="#f0ee10" stroke="#151515" stroke-width="1.0" stroke-linejoin="miter"/>
<polygon points="567.26,157.18 570.96,150.98 563.56,150.98" fill="#f0ee10" stroke="#151515" stroke-width="1.0" stroke-linejoin="miter"/>
<polygon points="572.47,157.51 576.17,151.31 568.77,151.31" fill="#f0ee10" stroke="#151515" stroke-width="1.0" stroke-linejoin="miter"/>
<polygon points="577.67,156.85 581.38,150.65 573.97,150.65" fill="#f0ee10" stroke="#151515" stroke-width="1.0" stroke-linejoin="miter"/>
<polygon points="582.88,157.84 586.58,151.64 579.18,151.64" fill="#f0ee10" stroke="#151515" stroke-width="1.0" stroke-linejoin="miter"/>
<polygon points="588.09,157.51 591.79,151.31 584.39,151.31" fill="#f0ee10" stroke="#151515" stroke-width="1.0" stroke-linejoin="miter"/>
<polygon points="593.30,156.52 597.00,150.32 589.60,150.32" fill="#f0ee10" stroke="#151515" stroke-width="1.0" stroke-linejoin="miter"/>
<polygon points="598.50,156.19 602.20,149.99 594.80,149.99" fill="#f0ee10" stroke="#151515" stroke-width="1.0" stroke-linejoin="miter"/>
<polygon points="603.71,157.18 607.41,150.98 600.01,150.98" fill="#f0ee10" stroke="#151515" stroke-width="1.0" stroke-linejoin="miter"/>
<polygon points="608.92,157.51 612.62,151.31 605.22,151.31" fill="#f0ee10" stroke="#151515" stroke-width="1.0" stroke-linejoin="miter"/>
<polygon points="614.12,156.85 617.82,150.65 610.42,150.65" fill="#f0ee10" stroke="#151515" stroke-width="1.0" stroke-linejoin="miter"/>
<polygon points="619.33,156.52 623.03,150.32 615.63,150.32" fill="#f0ee10" stroke="#151515" stroke-width="1.0" stroke-linejoin="miter"/>
<polygon points="624.54,157.18 628.24,150.98 620.84,150.98" fill="#f0ee10" stroke="#151515" stroke-width="1.0" stroke-linejoin="miter"/>
<polygon points="629.75,156.19 633.45,149.99 626.04,149.99" fill="#f0ee10" stroke="#151515" stroke-width="1.0" stroke-linejoin="miter"/>
<polygon points="634.95,156.85 638.65,150.65 631.25,150.65" fill="#f0ee10" stroke="#151515" stroke-width="1.0" stroke-linejoin="miter"/>
<polygon points="640.16,157.18 643.86,150.98 636.46,150.98" fill="#f0ee10" stroke="#151515" stroke-width="1.0" stroke-linejoin="miter"/>
<polygon points="645.37,156.52 649.07,150.32 641.67,150.32" fill="#f0ee10" stroke="#151515" stroke-width="1.0" stroke-linejoin="miter"/>
<polygon points="650.57,156.19 654.27,149.99 646.87,149.99" fill="#f0ee10" stroke="#151515" stroke-width="1.0" stroke-linejoin="miter"/>
<polygon points="655.78,156.85 659.48,150.65 652.08,150.65" fill="#f0ee10" stroke="#151515" stroke-width="1.0" stroke-linejoin="miter"/>
<polygon points="660.99,156.85 664.69,150.65 657.29,150.65" fill="#f0ee10" stroke="#151515" stroke-width="1.0" stroke-linejoin="miter"/>
<polygon points="431.88,200.29 435.58,206.49 428.18,206.49" fill="#1fd81f" stroke="#151515" stroke-width="1.0" stroke-linejoin="miter"/>
<polygon points="437.09,197.45 440.79,203.65 433.39,203.65" fill="#1fd81f" stroke="#151515" stroke-width="1.0" stroke-linejoin="miter"/>
<polygon points="442.29,198.44 445.99,204.64 438.59,204.64" fill="#1fd81f" stroke="#151515" stroke-width="1.0" stroke-linejoin="miter"/>
<polygon points="447.50,196.79 451.20,202.99 443.80,202.99" fill="#1fd81f" stroke="#151515" stroke-width="1.0" stroke-linejoin="miter"/>
<polygon points="452.71,196.79 456.41,202.99 449.01,202.99" fill="#1fd81f" stroke="#151515" stroke-width="1.0" stroke-linejoin="miter"/>
<polygon points="457.91,188.88 461.61,195.08 454.21,195.08" fill="#1fd81f" stroke="#151515" stroke-width="1.0" stroke-linejoin="miter"/>
<polygon points="463.12,182.95 466.82,189.15 459.42,189.15" fill="#1fd81f" stroke="#151515" stroke-width="1.0" stroke-linejoin="miter"/>
<polygon points="468.33,170.43 472.03,176.63 464.63,176.63" fill="#1fd81f" stroke="#151515" stroke-width="1.0" stroke-linejoin="miter"/>
<polygon points="473.54,165.55 477.24,171.75 469.84,171.75" fill="#1fd81f" stroke="#151515" stroke-width="1.0" stroke-linejoin="miter"/>
<polygon points="478.74,161.06 482.44,167.26 475.04,167.26" fill="#1fd81f" stroke="#151515" stroke-width="1.0" stroke-linejoin="miter"/>
<polygon points="483.95,151.97 487.65,158.17 480.25,158.17" fill="#1fd81f" stroke="#151515" stroke-width="1.0" stroke-linejoin="miter"/>
<polygon points="489.16,147.42 492.86,153.62 485.46,153.62" fill="#1fd81f" stroke="#151515" stroke-width="1.0" stroke-linejoin="miter"/>
<polygon points="494.36,144.72 498.06,150.92 490.66,150.92" fill="#1fd81f" stroke="#151515" stroke-width="1.0" stroke-linejoin="miter"/>
<polygon points="499.57,136.61 503.27,142.81 495.87,142.81" fill="#1fd81f" stroke="#151515" stroke-width="1.0" stroke-linejoin="miter"/>
<polygon points="504.78,134.76 508.48,140.96 501.08,140.96" fill="#1fd81f" stroke="#151515" stroke-width="1.0" stroke-linejoin="miter"/>
<polygon points="509.98,132.46 513.68,138.66 506.28,138.66" fill="#1fd81f" stroke="#151515" stroke-width="1.0" stroke-linejoin="miter"/>
<polygon points="515.19,126.98 518.89,133.18 511.49,133.18" fill="#1fd81f" stroke="#151515" stroke-width="1.0" stroke-linejoin="miter"/>
<polygon points="520.40,118.48 524.10,124.68 516.70,124.68" fill="#1fd81f" stroke="#151515" stroke-width="1.0" stroke-linejoin="miter"/>
<polygon points="525.61,117.03 529.31,123.23 521.90,123.23" fill="#1fd81f" stroke="#151515" stroke-width="1.0" stroke-linejoin="miter"/>
<polygon points="530.81,114.86 534.51,121.06 527.11,121.06" fill="#1fd81f" stroke="#151515" stroke-width="1.0" stroke-linejoin="miter"/>
<polygon points="536.02,111.16 539.72,117.36 532.32,117.36" fill="#1fd81f" stroke="#151515" stroke-width="1.0" stroke-linejoin="miter"/>
<polygon points="541.23,110.70 544.93,116.90 537.53,116.90" fill="#1fd81f" stroke="#151515" stroke-width="1.0" stroke-linejoin="miter"/>
<polygon points="546.43,107.47 550.13,113.67 542.73,113.67" fill="#1fd81f" stroke="#151515" stroke-width="1.0" stroke-linejoin="miter"/>
<polygon points="551.64,109.85 555.34,116.05 547.94,116.05" fill="#1fd81f" stroke="#151515" stroke-width="1.0" stroke-linejoin="miter"/>
<polygon points="556.85,107.47 560.55,113.67 553.15,113.67" fill="#1fd81f" stroke="#151515" stroke-width="1.0" stroke-linejoin="miter"/>
<polygon points="562.05,105.10 565.75,111.30 558.35,111.30" fill="#1fd81f" stroke="#151515" stroke-width="1.0" stroke-linejoin="miter"/>
<polygon points="567.26,106.29 570.96,112.49 563.56,112.49" fill="#1fd81f" stroke="#151515" stroke-width="1.0" stroke-linejoin="miter"/>
<polygon points="572.47,105.82 576.17,112.02 568.77,112.02" fill="#1fd81f" stroke="#151515" stroke-width="1.0" stroke-linejoin="miter"/>
<polygon points="577.67,106.29 581.38,112.49 573.97,112.49" fill="#1fd81f" stroke="#151515" stroke-width="1.0" stroke-linejoin="miter"/>
<polygon points="582.88,105.10 586.58,111.30 579.18,111.30" fill="#1fd81f" stroke="#151515" stroke-width="1.0" stroke-linejoin="miter"/>
<polygon points="588.09,105.10 591.79,111.30 584.39,111.30" fill="#1fd81f" stroke="#151515" stroke-width="1.0" stroke-linejoin="miter"/>
<polygon points="593.30,103.38 597.00,109.58 589.60,109.58" fill="#1fd81f" stroke="#151515" stroke-width="1.0" stroke-linejoin="miter"/>
<polygon points="598.50,104.37 602.20,110.57 594.80,110.57" fill="#1fd81f" stroke="#151515" stroke-width="1.0" stroke-linejoin="miter"/>
<polygon points="603.71,104.37 607.41,110.57 600.01,110.57" fill="#1fd81f" stroke="#151515" stroke-width="1.0" stroke-linejoin="miter"/>
<polygon points="608.92,104.37 612.62,110.57 605.22,110.57" fill="#1fd81f" stroke="#151515" stroke-width="1.0" stroke-linejoin="miter"/>
<polygon points="614.12,103.38 617.82,109.58 610.42,109.58" fill="#1fd81f" stroke="#151515" stroke-width="1.0" stroke-linejoin="miter"/>
<polygon points="619.33,104.37 623.03,110.57 615.63,110.57" fill="#1fd81f" stroke="#151515" stroke-width="1.0" stroke-linejoin="miter"/>
<polygon points="624.54,102.00 628.24,108.20 620.84,108.20" fill="#1fd81f" stroke="#151515" stroke-width="1.0" stroke-linejoin="miter"/>
<polygon points="629.75,104.37 633.45,110.57 626.04,110.57" fill="#1fd81f" stroke="#151515" stroke-width="1.0" stroke-linejoin="miter"/>
<polygon points="634.95,104.37 638.65,110.57 631.25,110.57" fill="#1fd81f" stroke="#151515" stroke-width="1.0" stroke-linejoin="miter"/>
<polygon points="640.16,102.00 643.86,108.20 636.46,108.20" fill="#1fd81f" stroke="#151515" stroke-width="1.0" stroke-linejoin="miter"/>
<polygon points="645.37,102.00 649.07,108.20 641.67,108.20" fill="#1fd81f" stroke="#151515" stroke-width="1.0" stroke-linejoin="miter"/>
<polygon points="650.57,106.81 654.27,113.01 646.87,113.01" fill="#1fd81f" stroke="#151515" stroke-width="1.0" stroke-linejoin="miter"/>
<polygon points="655.78,106.29 659.48,112.49 652.08,112.49" fill="#1fd81f" stroke="#151515" stroke-width="1.0" stroke-linejoin="miter"/>
<polygon points="660.99,102.73 664.69,108.93 657.29,108.93" fill="#1fd81f" stroke="#151515" stroke-width="1.0" stroke-linejoin="miter"/>
<circle cx="450.60" cy="47.90" r="3.6" fill="#fff" stroke="#151515" stroke-width="1.15"/>
<text x="457.56" y="52.80" font-size="14.3" font-weight="normal" textLength="26.77" lengthAdjust="spacingAndGlyphs" fill="#1a1a1a">AB#</text>
<polygon points="506.30,44.30 510.40,50.70 502.20,50.70" fill="#1fd81f" stroke="#151515" stroke-width="1.2" stroke-linejoin="miter"/>
<text x="512.16" y="52.80" font-size="14.3" font-weight="normal" textLength="47.30" lengthAdjust="spacingAndGlyphs" fill="#1a1a1a">ABCD#</text>
<polygon points="576.00,51.00 580.20,44.20 571.80,44.20" fill="#f0ee10" stroke="#151515" stroke-width="1.2" stroke-linejoin="miter"/>
<text x="580.76" y="52.60" font-size="14.3" font-weight="normal" textLength="92.69" lengthAdjust="spacingAndGlyphs" fill="#1a1a1a">ABCD#-L609R</text>
<text x="559.69" y="77.30" font-size="14.3" font-weight="normal" textLength="45.44" lengthAdjust="spacingAndGlyphs" fill="#1a1a1a">400 nM</text>
<text x="470.56" y="88.70" font-size="14.3" font-weight="normal" textLength="43.31" lengthAdjust="spacingAndGlyphs" fill="#1a1a1a">A343D</text>
<line x1="432.60" y1="92.40" x2="666.00" y2="91.40" stroke="#2a2a2a" stroke-width="1.2"/>
<line x1="432.80" y1="92.40" x2="440.04" y2="88.34" stroke="#2a2a2a" stroke-width="1.2"/>
<line x1="432.80" y1="92.40" x2="440.08" y2="96.39" stroke="#2a2a2a" stroke-width="1.2"/>
<line x1="666.00" y1="91.40" x2="658.76" y2="95.45" stroke="#2a2a2a" stroke-width="1.2"/>
<line x1="666.00" y1="91.40" x2="658.72" y2="87.41" stroke="#2a2a2a" stroke-width="1.2"/>
<text x="437.96" y="134.60" font-size="14.3" font-weight="normal" textLength="42.29" lengthAdjust="spacingAndGlyphs" fill="#1a1a1a">S511D</text>
<line x1="440.80" y1="139.00" x2="444.80" y2="192.00" stroke="#2a2a2a" stroke-width="1.1"/>
<line x1="444.80" y1="192.00" x2="440.57" y2="185.81" stroke="#2a2a2a" stroke-width="1.1"/>
<line x1="444.80" y1="192.00" x2="448.05" y2="185.24" stroke="#2a2a2a" stroke-width="1.1"/>
<text x="1.74" y="297.20" font-size="28.6" font-weight="bold" textLength="19.07" lengthAdjust="spacingAndGlyphs" fill="#000">C</text>
<line x1="84.50" y1="308.30" x2="84.50" y2="476.10" stroke="#2a2a2a" stroke-width="1.2"/>
<line x1="84.50" y1="475.60" x2="318.60" y2="475.60" stroke="#2a2a2a" stroke-width="1.2"/>
<line x1="82.00" y1="469.30" x2="84.50" y2="469.30" stroke="#2a2a2a" stroke-width="1"/>
<text x="70.30" y="473.10" font-size="14.3" font-weight="normal" textLength="7.64" lengthAdjust="spacingAndGlyphs" fill="#1a1a1a">0</text>
<line x1="82.00" y1="444.47" x2="84.50" y2="444.47" stroke="#2a2a2a" stroke-width="1"/>
<text x="62.68" y="448.27" font-size="14.3" font-weight="normal" textLength="15.27" lengthAdjust="spacingAndGlyphs" fill="#1a1a1a">20</text>
<line x1="82.00" y1="419.64" x2="84.50" y2="419.64" stroke="#2a2a2a" stroke-width="1"/>
<text x="62.68" y="423.44" font-size="14.3" font-weight="normal" textLength="15.27" lengthAdjust="spacingAndGlyphs" fill="#1a1a1a">40</text>
<line x1="82.00" y1="394.81" x2="84.50" y2="394.81" stroke="#2a2a2a" stroke-width="1"/>
<text x="62.68" y="398.61" font-size="14.3" font-weight="normal" textLength="15.27" lengthAdjust="spacingAndGlyphs" fill="#1a1a1a">60</text>
<line x1="82.00" y1="369.98" x2="84.50" y2="369.98" stroke="#2a2a2a" stroke-width="1"/>
<text x="62.68" y="373.78" font-size="14.3" font-weight="normal" textLength="15.27" lengthAdjust="spacingAndGlyphs" fill="#1a1a1a">80</text>
<line x1="82.00" y1="345.15" x2="84.50" y2="345.15" stroke="#2a2a2a" stroke-width="1"/>
<text x="55.02" y="348.95" font-size="14.3" font-weight="normal" textLength="22.91" lengthAdjust="spacingAndGlyphs" fill="#1a1a1a">100</text>
<line x1="82.00" y1="320.32" x2="84.50" y2="320.32" stroke="#2a2a2a" stroke-width="1"/>
<text x="55.02" y="324.12" font-size="14.3" font-weight="normal" textLength="22.91" lengthAdjust="spacingAndGlyphs" fill="#1a1a1a">120</text>
<line x1="94.00" y1="475.60" x2="94.00" y2="482.10" stroke="#2a2a2a" stroke-width="1"/>
<text x="90.29" y="499.00" font-size="14.3" font-weight="normal" textLength="7.40" lengthAdjust="spacingAndGlyphs" fill="#1a1a1a">0</text>
<line x1="131.30" y1="475.60" x2="131.30" y2="482.10" stroke="#2a2a2a" stroke-width="1"/>
<text x="127.61" y="499.00" font-size="14.3" font-weight="normal" textLength="7.40" lengthAdjust="spacingAndGlyphs" fill="#1a1a1a">5</text>
<line x1="177.20" y1="475.60" x2="177.20" y2="482.10" stroke="#2a2a2a" stroke-width="1"/>
<text x="169.57" y="499.00" font-size="14.3" font-weight="normal" textLength="14.79" lengthAdjust="spacingAndGlyphs" fill="#1a1a1a">10</text>
<line x1="224.50" y1="475.60" x2="224.50" y2="482.10" stroke="#2a2a2a" stroke-width="1"/>
<text x="216.89" y="499.00" font-size="14.3" font-weight="normal" textLength="14.79" lengthAdjust="spacingAndGlyphs" fill="#1a1a1a">15</text>
<line x1="271.20" y1="475.60" x2="271.20" y2="482.10" stroke="#2a2a2a" stroke-width="1"/>
<text x="263.74" y="499.00" font-size="14.3" font-weight="normal" textLength="14.79" lengthAdjust="spacingAndGlyphs" fill="#1a1a1a">20</text>
<line x1="318.10" y1="475.60" x2="318.10" y2="482.10" stroke="#2a2a2a" stroke-width="1"/>
<text x="310.65" y="499.00" font-size="14.3" font-weight="normal" textLength="14.79" lengthAdjust="spacingAndGlyphs" fill="#1a1a1a">25</text>
<text x="166.69" y="519.30" font-size="14.3" font-weight="normal" textLength="64.73" lengthAdjust="spacingAndGlyphs" fill="#1a1a1a">Time (min)</text>
<text transform="translate(45.30,468.68) rotate(-90)" x="0" y="0" font-size="14.3" font-weight="normal" textLength="155.18" lengthAdjust="spacingAndGlyphs" fill="#1a1a1a">% Fluorescence increase</text>
<polyline points="84.40,467.44 93.73,466.82 103.06,346.39 112.39,343.41 121.72,343.41 131.05,342.54 140.38,343.41 149.71,344.41 159.04,338.20 168.37,341.30 177.70,344.41 187.03,341.30 196.36,342.42 205.69,341.67 215.02,343.78 224.35,343.04 233.68,346.64 243.01,348.87 252.34,343.78 261.67,351.61 271.00,354.59 280.33,357.94 289.66,362.78 298.99,353.34 308.32,349.50 317.65,351.61" fill="none" stroke="#2a2a2a" stroke-width="1" stroke-linejoin="round"/>
<polyline points="84.40,470.54 93.73,469.05 103.06,445.34 112.39,410.58 121.72,393.32 131.05,383.02 140.38,374.70 149.71,371.84 159.04,369.11 168.37,367.00 177.70,360.42 187.03,355.33 196.36,354.96 205.69,350.24 215.02,353.10 224.35,352.72 233.68,349.50 243.01,350.24 252.34,349.50 261.67,344.16 271.00,344.78 280.33,347.01 289.66,347.63 298.99,346.39 308.32,347.63 317.65,349.37" fill="none" stroke="#2a2a2a" stroke-width="1" stroke-linejoin="round"/>
<polyline points="84.40,463.22 93.73,461.85 103.06,461.85 112.39,451.79 121.72,443.10 131.05,428.45 140.38,423.61 149.71,417.16 159.04,407.35 168.37,400.89 177.70,396.92 187.03,386.24 196.36,386.00 205.69,380.91 215.02,374.57 224.35,363.90 233.68,361.66 243.01,360.30 252.34,355.21 261.67,355.08 271.00,351.11 280.33,353.34 289.66,351.11 298.99,349.99 308.32,350.49 317.65,350.12" fill="none" stroke="#2a2a2a" stroke-width="1" stroke-linejoin="round"/>
<line x1="103.06" y1="325.67" x2="103.06" y2="367.12" stroke="#2a2a2a" stroke-width="1"/>
<line x1="100.76" y1="325.67" x2="105.36" y2="325.67" stroke="#2a2a2a" stroke-width="1"/>
<line x1="100.76" y1="367.12" x2="105.36" y2="367.12" stroke="#2a2a2a" stroke-width="1"/>
<line x1="112.39" y1="325.42" x2="112.39" y2="361.41" stroke="#2a2a2a" stroke-width="1"/>
<line x1="110.09" y1="325.42" x2="114.69" y2="325.42" stroke="#2a2a2a" stroke-width="1"/>
<line x1="110.09" y1="361.41" x2="114.69" y2="361.41" stroke="#2a2a2a" stroke-width="1"/>
<line x1="121.72" y1="319.34" x2="121.72" y2="367.49" stroke="#2a2a2a" stroke-width="1"/>
<line x1="119.42" y1="319.34" x2="124.02" y2="319.34" stroke="#2a2a2a" stroke-width="1"/>
<line x1="119.42" y1="367.49" x2="124.02" y2="367.49" stroke="#2a2a2a" stroke-width="1"/>
<line x1="131.05" y1="331.99" x2="131.05" y2="353.09" stroke="#2a2a2a" stroke-width="1"/>
<line x1="128.75" y1="331.99" x2="133.35" y2="331.99" stroke="#2a2a2a" stroke-width="1"/>
<line x1="128.75" y1="353.09" x2="133.35" y2="353.09" stroke="#2a2a2a" stroke-width="1"/>
<line x1="140.38" y1="323.06" x2="140.38" y2="363.76" stroke="#2a2a2a" stroke-width="1"/>
<line x1="138.08" y1="323.06" x2="142.68" y2="323.06" stroke="#2a2a2a" stroke-width="1"/>
<line x1="138.08" y1="363.76" x2="142.68" y2="363.76" stroke="#2a2a2a" stroke-width="1"/>
<line x1="149.71" y1="339.81" x2="149.71" y2="349.00" stroke="#2a2a2a" stroke-width="1"/>
<line x1="147.41" y1="339.81" x2="152.01" y2="339.81" stroke="#2a2a2a" stroke-width="1"/>
<line x1="147.41" y1="349.00" x2="152.01" y2="349.00" stroke="#2a2a2a" stroke-width="1"/>
<line x1="159.04" y1="328.15" x2="159.04" y2="348.25" stroke="#2a2a2a" stroke-width="1"/>
<line x1="156.74" y1="328.15" x2="161.34" y2="328.15" stroke="#2a2a2a" stroke-width="1"/>
<line x1="156.74" y1="348.25" x2="161.34" y2="348.25" stroke="#2a2a2a" stroke-width="1"/>
<line x1="168.37" y1="333.98" x2="168.37" y2="348.62" stroke="#2a2a2a" stroke-width="1"/>
<line x1="166.07" y1="333.98" x2="170.67" y2="333.98" stroke="#2a2a2a" stroke-width="1"/>
<line x1="166.07" y1="348.62" x2="170.67" y2="348.62" stroke="#2a2a2a" stroke-width="1"/>
<line x1="177.70" y1="325.54" x2="177.70" y2="363.27" stroke="#2a2a2a" stroke-width="1"/>
<line x1="175.40" y1="325.54" x2="180.00" y2="325.54" stroke="#2a2a2a" stroke-width="1"/>
<line x1="175.40" y1="363.27" x2="180.00" y2="363.27" stroke="#2a2a2a" stroke-width="1"/>
<line x1="187.03" y1="318.96" x2="187.03" y2="363.64" stroke="#2a2a2a" stroke-width="1"/>
<line x1="184.73" y1="318.96" x2="189.33" y2="318.96" stroke="#2a2a2a" stroke-width="1"/>
<line x1="184.73" y1="363.64" x2="189.33" y2="363.64" stroke="#2a2a2a" stroke-width="1"/>
<line x1="196.36" y1="335.97" x2="196.36" y2="348.87" stroke="#2a2a2a" stroke-width="1"/>
<line x1="194.06" y1="335.97" x2="198.66" y2="335.97" stroke="#2a2a2a" stroke-width="1"/>
<line x1="194.06" y1="348.87" x2="198.66" y2="348.87" stroke="#2a2a2a" stroke-width="1"/>
<line x1="205.69" y1="321.57" x2="205.69" y2="361.78" stroke="#2a2a2a" stroke-width="1"/>
<line x1="203.39" y1="321.57" x2="207.99" y2="321.57" stroke="#2a2a2a" stroke-width="1"/>
<line x1="203.39" y1="361.78" x2="207.99" y2="361.78" stroke="#2a2a2a" stroke-width="1"/>
<line x1="215.02" y1="338.08" x2="215.02" y2="349.49" stroke="#2a2a2a" stroke-width="1"/>
<line x1="212.72" y1="338.08" x2="217.32" y2="338.08" stroke="#2a2a2a" stroke-width="1"/>
<line x1="212.72" y1="349.49" x2="217.32" y2="349.49" stroke="#2a2a2a" stroke-width="1"/>
<line x1="224.35" y1="335.35" x2="224.35" y2="350.73" stroke="#2a2a2a" stroke-width="1"/>
<line x1="222.05" y1="335.35" x2="226.65" y2="335.35" stroke="#2a2a2a" stroke-width="1"/>
<line x1="222.05" y1="350.73" x2="226.65" y2="350.73" stroke="#2a2a2a" stroke-width="1"/>
<line x1="233.68" y1="330.13" x2="233.68" y2="363.15" stroke="#2a2a2a" stroke-width="1"/>
<line x1="231.38" y1="330.13" x2="235.98" y2="330.13" stroke="#2a2a2a" stroke-width="1"/>
<line x1="231.38" y1="363.15" x2="235.98" y2="363.15" stroke="#2a2a2a" stroke-width="1"/>
<line x1="243.01" y1="341.92" x2="243.01" y2="355.82" stroke="#2a2a2a" stroke-width="1"/>
<line x1="240.71" y1="341.92" x2="245.31" y2="341.92" stroke="#2a2a2a" stroke-width="1"/>
<line x1="240.71" y1="355.82" x2="245.31" y2="355.82" stroke="#2a2a2a" stroke-width="1"/>
<line x1="252.34" y1="327.03" x2="252.34" y2="360.54" stroke="#2a2a2a" stroke-width="1"/>
<line x1="250.04" y1="327.03" x2="254.64" y2="327.03" stroke="#2a2a2a" stroke-width="1"/>
<line x1="250.04" y1="360.54" x2="254.64" y2="360.54" stroke="#2a2a2a" stroke-width="1"/>
<line x1="261.67" y1="330.01" x2="261.67" y2="373.20" stroke="#2a2a2a" stroke-width="1"/>
<line x1="259.37" y1="330.01" x2="263.97" y2="330.01" stroke="#2a2a2a" stroke-width="1"/>
<line x1="259.37" y1="373.20" x2="263.97" y2="373.20" stroke="#2a2a2a" stroke-width="1"/>
<line x1="271.00" y1="350.86" x2="271.00" y2="358.31" stroke="#2a2a2a" stroke-width="1"/>
<line x1="268.70" y1="350.86" x2="273.30" y2="350.86" stroke="#2a2a2a" stroke-width="1"/>
<line x1="268.70" y1="358.31" x2="273.30" y2="358.31" stroke="#2a2a2a" stroke-width="1"/>
<line x1="280.33" y1="340.32" x2="280.33" y2="375.56" stroke="#2a2a2a" stroke-width="1"/>
<line x1="278.03" y1="340.32" x2="282.63" y2="340.32" stroke="#2a2a2a" stroke-width="1"/>
<line x1="278.03" y1="375.56" x2="282.63" y2="375.56" stroke="#2a2a2a" stroke-width="1"/>
<line x1="289.66" y1="347.27" x2="289.66" y2="378.29" stroke="#2a2a2a" stroke-width="1"/>
<line x1="287.36" y1="347.27" x2="291.96" y2="347.27" stroke="#2a2a2a" stroke-width="1"/>
<line x1="287.36" y1="378.29" x2="291.96" y2="378.29" stroke="#2a2a2a" stroke-width="1"/>
<line x1="298.99" y1="341.55" x2="298.99" y2="365.13" stroke="#2a2a2a" stroke-width="1"/>
<line x1="296.69" y1="341.55" x2="301.29" y2="341.55" stroke="#2a2a2a" stroke-width="1"/>
<line x1="296.69" y1="365.13" x2="301.29" y2="365.13" stroke="#2a2a2a" stroke-width="1"/>
<line x1="308.32" y1="330.88" x2="308.32" y2="368.11" stroke="#2a2a2a" stroke-width="1"/>
<line x1="306.02" y1="330.88" x2="310.62" y2="330.88" stroke="#2a2a2a" stroke-width="1"/>
<line x1="306.02" y1="368.11" x2="310.62" y2="368.11" stroke="#2a2a2a" stroke-width="1"/>
<line x1="317.65" y1="349.12" x2="317.65" y2="354.09" stroke="#2a2a2a" stroke-width="1"/>
<line x1="315.35" y1="349.12" x2="319.95" y2="349.12" stroke="#2a2a2a" stroke-width="1"/>
<line x1="315.35" y1="354.09" x2="319.95" y2="354.09" stroke="#2a2a2a" stroke-width="1"/>
<line x1="187.03" y1="383.24" x2="187.03" y2="389.24" stroke="#2a2a2a" stroke-width="1"/>
<line x1="184.73" y1="383.24" x2="189.33" y2="383.24" stroke="#2a2a2a" stroke-width="1"/>
<line x1="184.73" y1="389.24" x2="189.33" y2="389.24" stroke="#2a2a2a" stroke-width="1"/>
<line x1="196.36" y1="383.00" x2="196.36" y2="389.00" stroke="#2a2a2a" stroke-width="1"/>
<line x1="194.06" y1="383.00" x2="198.66" y2="383.00" stroke="#2a2a2a" stroke-width="1"/>
<line x1="194.06" y1="389.00" x2="198.66" y2="389.00" stroke="#2a2a2a" stroke-width="1"/>
<line x1="224.35" y1="360.90" x2="224.35" y2="366.90" stroke="#2a2a2a" stroke-width="1"/>
<line x1="222.05" y1="360.90" x2="226.65" y2="360.90" stroke="#2a2a2a" stroke-width="1"/>
<line x1="222.05" y1="366.90" x2="226.65" y2="366.90" stroke="#2a2a2a" stroke-width="1"/>
<circle cx="84.40" cy="467.44" r="3.6" fill="#fff" stroke="#151515" stroke-width="1.15"/>
<circle cx="93.73" cy="466.82" r="3.6" fill="#fff" stroke="#151515" stroke-width="1.15"/>
<circle cx="103.06" cy="346.39" r="3.6" fill="#fff" stroke="#151515" stroke-width="1.15"/>
<circle cx="112.39" cy="343.41" r="3.6" fill="#fff" stroke="#151515" stroke-width="1.15"/>
<circle cx="121.72" cy="343.41" r="3.6" fill="#fff" stroke="#151515" stroke-width="1.15"/>
<circle cx="131.05" cy="342.54" r="3.6" fill="#fff" stroke="#151515" stroke-width="1.15"/>
<circle cx="140.38" cy="343.41" r="3.6" fill="#fff" stroke="#151515" stroke-width="1.15"/>
<circle cx="149.71" cy="344.41" r="3.6" fill="#fff" stroke="#151515" stroke-width="1.15"/>
<circle cx="159.04" cy="338.20" r="3.6" fill="#fff" stroke="#151515" stroke-width="1.15"/>
<circle cx="168.37" cy="341.30" r="3.6" fill="#fff" stroke="#151515" stroke-width="1.15"/>
<circle cx="177.70" cy="344.41" r="3.6" fill="#fff" stroke="#151515" stroke-width="1.15"/>
<circle cx="187.03" cy="341.30" r="3.6" fill="#fff" stroke="#151515" stroke-width="1.15"/>
<circle cx="196.36" cy="342.42" r="3.6" fill="#fff" stroke="#151515" stroke-width="1.15"/>
<circle cx="205.69" cy="341.67" r="3.6" fill="#fff" stroke="#151515" stroke-width="1.15"/>
<circle cx="215.02" cy="343.78" r="3.6" fill="#fff" stroke="#151515" stroke-width="1.15"/>
<circle cx="224.35" cy="343.04" r="3.6" fill="#fff" stroke="#151515" stroke-width="1.15"/>
<circle cx="233.68" cy="346.64" r="3.6" fill="#fff" stroke="#151515" stroke-width="1.15"/>
<circle cx="243.01" cy="348.87" r="3.6" fill="#fff" stroke="#151515" stroke-width="1.15"/>
<circle cx="252.34" cy="343.78" r="3.6" fill="#fff" stroke="#151515" stroke-width="1.15"/>
<circle cx="261.67" cy="351.61" r="3.6" fill="#fff" stroke="#151515" stroke-width="1.15"/>
<circle cx="271.00" cy="354.59" r="3.6" fill="#fff" stroke="#151515" stroke-width="1.15"/>
<circle cx="280.33" cy="357.94" r="3.6" fill="#fff" stroke="#151515" stroke-width="1.15"/>
<circle cx="289.66" cy="362.78" r="3.6" fill="#fff" stroke="#151515" stroke-width="1.15"/>
<circle cx="298.99" cy="353.34" r="3.6" fill="#fff" stroke="#151515" stroke-width="1.15"/>
<circle cx="308.32" cy="349.50" r="3.6" fill="#fff" stroke="#151515" stroke-width="1.15"/>
<circle cx="317.65" cy="351.61" r="3.6" fill="#fff" stroke="#151515" stroke-width="1.15"/>
<polygon points="84.40,474.04 88.60,467.04 80.20,467.04" fill="#f0ee10" stroke="#151515" stroke-width="1.2" stroke-linejoin="miter"/>
<polygon points="93.73,472.55 97.93,465.55 89.53,465.55" fill="#f0ee10" stroke="#151515" stroke-width="1.2" stroke-linejoin="miter"/>
<polygon points="103.06,448.84 107.26,441.84 98.86,441.84" fill="#f0ee10" stroke="#151515" stroke-width="1.2" stroke-linejoin="miter"/>
<polygon points="112.39,414.08 116.59,407.08 108.19,407.08" fill="#f0ee10" stroke="#151515" stroke-width="1.2" stroke-linejoin="miter"/>
<polygon points="121.72,396.82 125.92,389.82 117.52,389.82" fill="#f0ee10" stroke="#151515" stroke-width="1.2" stroke-linejoin="miter"/>
<polygon points="131.05,386.52 135.25,379.52 126.85,379.52" fill="#f0ee10" stroke="#151515" stroke-width="1.2" stroke-linejoin="miter"/>
<polygon points="140.38,378.20 144.58,371.20 136.18,371.20" fill="#f0ee10" stroke="#151515" stroke-width="1.2" stroke-linejoin="miter"/>
<polygon points="149.71,375.34 153.91,368.34 145.51,368.34" fill="#f0ee10" stroke="#151515" stroke-width="1.2" stroke-linejoin="miter"/>
<polygon points="159.04,372.61 163.24,365.61 154.84,365.61" fill="#f0ee10" stroke="#151515" stroke-width="1.2" stroke-linejoin="miter"/>
<polygon points="168.37,370.50 172.57,363.50 164.17,363.50" fill="#f0ee10" stroke="#151515" stroke-width="1.2" stroke-linejoin="miter"/>
<polygon points="177.70,363.92 181.90,356.92 173.50,356.92" fill="#f0ee10" stroke="#151515" stroke-width="1.2" stroke-linejoin="miter"/>
<polygon points="187.03,358.83 191.23,351.83 182.83,351.83" fill="#f0ee10" stroke="#151515" stroke-width="1.2" stroke-linejoin="miter"/>
<polygon points="196.36,358.46 200.56,351.46 192.16,351.46" fill="#f0ee10" stroke="#151515" stroke-width="1.2" stroke-linejoin="miter"/>
<polygon points="205.69,353.74 209.89,346.74 201.49,346.74" fill="#f0ee10" stroke="#151515" stroke-width="1.2" stroke-linejoin="miter"/>
<polygon points="215.02,356.60 219.22,349.60 210.82,349.60" fill="#f0ee10" stroke="#151515" stroke-width="1.2" stroke-linejoin="miter"/>
<polygon points="224.35,356.22 228.55,349.22 220.15,349.22" fill="#f0ee10" stroke="#151515" stroke-width="1.2" stroke-linejoin="miter"/>
<polygon points="233.68,353.00 237.88,346.00 229.48,346.00" fill="#f0ee10" stroke="#151515" stroke-width="1.2" stroke-linejoin="miter"/>
<polygon points="243.01,353.74 247.21,346.74 238.81,346.74" fill="#f0ee10" stroke="#151515" stroke-width="1.2" stroke-linejoin="miter"/>
<polygon points="252.34,353.00 256.54,346.00 248.14,346.00" fill="#f0ee10" stroke="#151515" stroke-width="1.2" stroke-linejoin="miter"/>
<polygon points="261.67,347.66 265.87,340.66 257.47,340.66" fill="#f0ee10" stroke="#151515" stroke-width="1.2" stroke-linejoin="miter"/>
<polygon points="271.00,348.28 275.20,341.28 266.80,341.28" fill="#f0ee10" stroke="#151515" stroke-width="1.2" stroke-linejoin="miter"/>
<polygon points="280.33,350.51 284.53,343.51 276.13,343.51" fill="#f0ee10" stroke="#151515" stroke-width="1.2" stroke-linejoin="miter"/>
<polygon points="289.66,351.13 293.86,344.13 285.46,344.13" fill="#f0ee10" stroke="#151515" stroke-width="1.2" stroke-linejoin="miter"/>
<polygon points="298.99,349.89 303.19,342.89 294.79,342.89" fill="#f0ee10" stroke="#151515" stroke-width="1.2" stroke-linejoin="miter"/>
<polygon points="308.32,351.13 312.52,344.13 304.12,344.13" fill="#f0ee10" stroke="#151515" stroke-width="1.2" stroke-linejoin="miter"/>
<polygon points="317.65,352.87 321.85,345.87 313.45,345.87" fill="#f0ee10" stroke="#151515" stroke-width="1.2" stroke-linejoin="miter"/>
<polygon points="84.40,459.72 88.60,466.72 80.20,466.72" fill="#1fd81f" stroke="#151515" stroke-width="1.2" stroke-linejoin="miter"/>
<polygon points="93.73,458.35 97.93,465.35 89.53,465.35" fill="#1fd81f" stroke="#151515" stroke-width="1.2" stroke-linejoin="miter"/>
<polygon points="103.06,458.35 107.26,465.35 98.86,465.35" fill="#1fd81f" stroke="#151515" stroke-width="1.2" stroke-linejoin="miter"/>
<polygon points="112.39,448.29 116.59,455.29 108.19,455.29" fill="#1fd81f" stroke="#151515" stroke-width="1.2" stroke-linejoin="miter"/>
<polygon points="121.72,439.60 125.92,446.60 117.52,446.60" fill="#1fd81f" stroke="#151515" stroke-width="1.2" stroke-linejoin="miter"/>
<polygon points="131.05,424.95 135.25,431.95 126.85,431.95" fill="#1fd81f" stroke="#151515" stroke-width="1.2" stroke-linejoin="miter"/>
<polygon points="140.38,420.11 144.58,427.11 136.18,427.11" fill="#1fd81f" stroke="#151515" stroke-width="1.2" stroke-linejoin="miter"/>
<polygon points="149.71,413.66 153.91,420.66 145.51,420.66" fill="#1fd81f" stroke="#151515" stroke-width="1.2" stroke-linejoin="miter"/>
<polygon points="159.04,403.85 163.24,410.85 154.84,410.85" fill="#1fd81f" stroke="#151515" stroke-width="1.2" stroke-linejoin="miter"/>
<polygon points="168.37,397.39 172.57,404.39 164.17,404.39" fill="#1fd81f" stroke="#151515" stroke-width="1.2" stroke-linejoin="miter"/>
<polygon points="177.70,393.42 181.90,400.42 173.50,400.42" fill="#1fd81f" stroke="#151515" stroke-width="1.2" stroke-linejoin="miter"/>
<polygon points="187.03,382.74 191.23,389.74 182.83,389.74" fill="#1fd81f" stroke="#151515" stroke-width="1.2" stroke-linejoin="miter"/>
<polygon points="196.36,382.50 200.56,389.50 192.16,389.50" fill="#1fd81f" stroke="#151515" stroke-width="1.2" stroke-linejoin="miter"/>
<polygon points="205.69,377.41 209.89,384.41 201.49,384.41" fill="#1fd81f" stroke="#151515" stroke-width="1.2" stroke-linejoin="miter"/>
<polygon points="215.02,371.07 219.22,378.07 210.82,378.07" fill="#1fd81f" stroke="#151515" stroke-width="1.2" stroke-linejoin="miter"/>
<polygon points="224.35,360.40 228.55,367.40 220.15,367.40" fill="#1fd81f" stroke="#151515" stroke-width="1.2" stroke-linejoin="miter"/>
<polygon points="233.68,358.16 237.88,365.16 229.48,365.16" fill="#1fd81f" stroke="#151515" stroke-width="1.2" stroke-linejoin="miter"/>
<polygon points="243.01,356.80 247.21,363.80 238.81,363.80" fill="#1fd81f" stroke="#151515" stroke-width="1.2" stroke-linejoin="miter"/>
<polygon points="252.34,351.71 256.54,358.71 248.14,358.71" fill="#1fd81f" stroke="#151515" stroke-width="1.2" stroke-linejoin="miter"/>
<polygon points="261.67,351.58 265.87,358.58 257.47,358.58" fill="#1fd81f" stroke="#151515" stroke-width="1.2" stroke-linejoin="miter"/>
<polygon points="271.00,347.61 275.20,354.61 266.80,354.61" fill="#1fd81f" stroke="#151515" stroke-width="1.2" stroke-linejoin="miter"/>
<polygon points="280.33,349.84 284.53,356.84 276.13,356.84" fill="#1fd81f" stroke="#151515" stroke-width="1.2" stroke-linejoin="miter"/>
<polygon points="289.66,347.61 293.86,354.61 285.46,354.61" fill="#1fd81f" stroke="#151515" stroke-width="1.2" stroke-linejoin="miter"/>
<polygon points="298.99,346.49 303.19,353.49 294.79,353.49" fill="#1fd81f" stroke="#151515" stroke-width="1.2" stroke-linejoin="miter"/>
<polygon points="308.32,346.99 312.52,353.99 304.12,353.99" fill="#1fd81f" stroke="#151515" stroke-width="1.2" stroke-linejoin="miter"/>
<polygon points="317.65,346.62 321.85,353.62 313.45,353.62" fill="#1fd81f" stroke="#151515" stroke-width="1.2" stroke-linejoin="miter"/>
<circle cx="120.20" cy="461.60" r="3.5" fill="#fff" stroke="#151515" stroke-width="1.15"/>
<text x="126.57" y="466.40" font-size="14.3" font-weight="normal" textLength="26.37" lengthAdjust="spacingAndGlyphs" fill="#1a1a1a">AB#</text>
<polygon points="161.70,458.55 166.10,464.05 157.30,464.05" fill="#1fd81f" stroke="#151515" stroke-width="1.2" stroke-linejoin="miter"/>
<text x="167.76" y="466.40" font-size="14.3" font-weight="normal" textLength="47.40" lengthAdjust="spacingAndGlyphs" fill="#1a1a1a">ABCD#</text>
<polygon points="224.00,463.90 228.40,458.10 219.60,458.10" fill="#f0ee10" stroke="#151515" stroke-width="1.2" stroke-linejoin="miter"/>
<text x="228.86" y="466.50" font-size="14.3" font-weight="normal" textLength="92.99" lengthAdjust="spacingAndGlyphs" fill="#1a1a1a">ABCD#-L609R</text>
<text x="358.53" y="297.20" font-size="28.6" font-weight="bold" textLength="20.04" lengthAdjust="spacingAndGlyphs" fill="#000">D</text>
<rect x="432.4" y="307.4" width="240.0" height="172.5" fill="none" stroke="#2a2a2a" stroke-width="1.2"/>
<line x1="429.40" y1="479.90" x2="432.40" y2="479.90" stroke="#2a2a2a" stroke-width="1"/>
<text x="407.83" y="483.90" font-size="14.3" font-weight="normal" textLength="19.08" lengthAdjust="spacingAndGlyphs" fill="#1a1a1a">0.0</text>
<line x1="429.40" y1="445.40" x2="432.40" y2="445.40" stroke="#2a2a2a" stroke-width="1"/>
<text x="407.83" y="449.40" font-size="14.3" font-weight="normal" textLength="19.08" lengthAdjust="spacingAndGlyphs" fill="#1a1a1a">2.0</text>
<line x1="429.40" y1="410.90" x2="432.40" y2="410.90" stroke="#2a2a2a" stroke-width="1"/>
<text x="407.83" y="414.90" font-size="14.3" font-weight="normal" textLength="19.08" lengthAdjust="spacingAndGlyphs" fill="#1a1a1a">4.0</text>
<line x1="429.40" y1="376.40" x2="432.40" y2="376.40" stroke="#2a2a2a" stroke-width="1"/>
<text x="407.83" y="380.40" font-size="14.3" font-weight="normal" textLength="19.08" lengthAdjust="spacingAndGlyphs" fill="#1a1a1a">6.0</text>
<line x1="429.40" y1="341.90" x2="432.40" y2="341.90" stroke="#2a2a2a" stroke-width="1"/>
<text x="407.83" y="345.90" font-size="14.3" font-weight="normal" textLength="19.08" lengthAdjust="spacingAndGlyphs" fill="#1a1a1a">8.0</text>
<line x1="429.40" y1="307.40" x2="432.40" y2="307.40" stroke="#2a2a2a" stroke-width="1"/>
<text x="400.21" y="311.40" font-size="14.3" font-weight="normal" textLength="26.72" lengthAdjust="spacingAndGlyphs" fill="#1a1a1a">10.0</text>
<line x1="452.20" y1="479.90" x2="452.20" y2="485.70" stroke="#2a2a2a" stroke-width="1"/>
<text x="448.49" y="498.90" font-size="14.3" font-weight="normal" textLength="7.40" lengthAdjust="spacingAndGlyphs" fill="#1a1a1a">0</text>
<line x1="474.19" y1="479.90" x2="474.19" y2="485.70" stroke="#2a2a2a" stroke-width="1"/>
<line x1="496.18" y1="479.90" x2="496.18" y2="485.70" stroke="#2a2a2a" stroke-width="1"/>
<text x="488.90" y="498.90" font-size="14.3" font-weight="normal" textLength="14.79" lengthAdjust="spacingAndGlyphs" fill="#1a1a1a">40</text>
<line x1="518.17" y1="479.90" x2="518.17" y2="485.70" stroke="#2a2a2a" stroke-width="1"/>
<line x1="540.16" y1="479.90" x2="540.16" y2="485.70" stroke="#2a2a2a" stroke-width="1"/>
<text x="532.75" y="498.90" font-size="14.3" font-weight="normal" textLength="14.79" lengthAdjust="spacingAndGlyphs" fill="#1a1a1a">80</text>
<line x1="562.15" y1="479.90" x2="562.15" y2="485.70" stroke="#2a2a2a" stroke-width="1"/>
<line x1="584.14" y1="479.90" x2="584.14" y2="485.70" stroke="#2a2a2a" stroke-width="1"/>
<text x="572.80" y="498.90" font-size="14.3" font-weight="normal" textLength="22.19" lengthAdjust="spacingAndGlyphs" fill="#1a1a1a">120</text>
<line x1="606.13" y1="479.90" x2="606.13" y2="485.70" stroke="#2a2a2a" stroke-width="1"/>
<line x1="628.12" y1="479.90" x2="628.12" y2="485.70" stroke="#2a2a2a" stroke-width="1"/>
<text x="616.78" y="498.90" font-size="14.3" font-weight="normal" textLength="22.19" lengthAdjust="spacingAndGlyphs" fill="#1a1a1a">160</text>
<line x1="650.11" y1="479.90" x2="650.11" y2="485.70" stroke="#2a2a2a" stroke-width="1"/>
<line x1="672.10" y1="479.90" x2="672.10" y2="485.70" stroke="#2a2a2a" stroke-width="1"/>
<text x="660.93" y="498.90" font-size="14.3" font-weight="normal" textLength="22.19" lengthAdjust="spacingAndGlyphs" fill="#1a1a1a">200</text>
<text x="521.94" y="519.20" font-size="14.3" font-weight="normal" textLength="19.58" lengthAdjust="spacingAndGlyphs" fill="#1a1a1a">EC</text>
<text x="541.62" y="521.30" font-size="10.5" font-weight="normal" textLength="10.45" lengthAdjust="spacingAndGlyphs" fill="#1a1a1a">50</text>
<text x="554.94" y="519.20" font-size="14.3" font-weight="normal" textLength="28.29" lengthAdjust="spacingAndGlyphs" fill="#1a1a1a">(nM)</text>
<text transform="translate(393.20,441.04) rotate(-90)" x="0" y="0" font-size="14.3" font-weight="normal" textLength="93.38" lengthAdjust="spacingAndGlyphs" fill="#1a1a1a">Half Time (min)</text>
<circle cx="462.00" cy="469.30" r="3.9" fill="#fff" stroke="#151515" stroke-width="1.1"/>
<circle cx="477.60" cy="467.50" r="3.9" fill="#bababa" stroke="#151515" stroke-width="1.1"/>
<line x1="502.50" y1="356.80" x2="502.50" y2="377.30" stroke="#2a2a2a" stroke-width="1"/>
<line x1="500.00" y1="356.80" x2="505.00" y2="356.80" stroke="#2a2a2a" stroke-width="1"/>
<line x1="500.00" y1="377.30" x2="505.00" y2="377.30" stroke="#2a2a2a" stroke-width="1"/>
<line x1="497.40" y1="367.40" x2="506.60" y2="367.40" stroke="#2a2a2a" stroke-width="1"/>
<line x1="497.40" y1="364.90" x2="497.40" y2="369.90" stroke="#2a2a2a" stroke-width="1"/>
<line x1="506.60" y1="364.90" x2="506.60" y2="369.90" stroke="#2a2a2a" stroke-width="1"/>
<polygon points="502.50,363.90 506.50,370.90 498.50,370.90" fill="#1fd81f" stroke="#151515" stroke-width="1.2" stroke-linejoin="miter"/>
<line x1="538.70" y1="328.20" x2="538.70" y2="356.20" stroke="#2a2a2a" stroke-width="1"/>
<line x1="535.90" y1="328.20" x2="541.50" y2="328.20" stroke="#2a2a2a" stroke-width="1"/>
<line x1="535.90" y1="356.20" x2="541.50" y2="356.20" stroke="#2a2a2a" stroke-width="1"/>
<line x1="529.00" y1="342.90" x2="548.50" y2="342.90" stroke="#2a2a2a" stroke-width="1"/>
<line x1="529.00" y1="340.10" x2="529.00" y2="345.70" stroke="#2a2a2a" stroke-width="1"/>
<line x1="548.50" y1="340.10" x2="548.50" y2="345.70" stroke="#2a2a2a" stroke-width="1"/>
<polygon points="538.70,339.40 542.70,346.40 534.70,346.40" fill="#bababa" stroke="#151515" stroke-width="1.2" stroke-linejoin="miter"/>
<line x1="582.60" y1="424.00" x2="582.60" y2="433.70" stroke="#2a2a2a" stroke-width="1"/>
<line x1="579.80" y1="424.00" x2="585.40" y2="424.00" stroke="#2a2a2a" stroke-width="1"/>
<line x1="579.80" y1="433.70" x2="585.40" y2="433.70" stroke="#2a2a2a" stroke-width="1"/>
<line x1="574.20" y1="428.90" x2="591.50" y2="428.90" stroke="#2a2a2a" stroke-width="1"/>
<line x1="574.20" y1="426.10" x2="574.20" y2="431.70" stroke="#2a2a2a" stroke-width="1"/>
<line x1="591.50" y1="426.10" x2="591.50" y2="431.70" stroke="#2a2a2a" stroke-width="1"/>
<polygon points="582.60,432.40 586.85,425.40 578.35,425.40" fill="#f0ee10" stroke="#151515" stroke-width="1.2" stroke-linejoin="miter"/>
<line x1="642.80" y1="424.00" x2="642.80" y2="430.00" stroke="#2a2a2a" stroke-width="1"/>
<line x1="640.00" y1="424.00" x2="645.60" y2="424.00" stroke="#2a2a2a" stroke-width="1"/>
<line x1="640.00" y1="430.00" x2="645.60" y2="430.00" stroke="#2a2a2a" stroke-width="1"/>
<line x1="635.10" y1="427.00" x2="649.60" y2="427.00" stroke="#2a2a2a" stroke-width="1"/>
<line x1="635.10" y1="424.20" x2="635.10" y2="429.80" stroke="#2a2a2a" stroke-width="1"/>
<line x1="649.60" y1="424.20" x2="649.60" y2="429.80" stroke="#2a2a2a" stroke-width="1"/>
<polygon points="642.80,430.50 647.05,423.50 638.55,423.50" fill="#bababa" stroke="#151515" stroke-width="1.2" stroke-linejoin="miter"/>
<text x="495.86" y="326.00" font-size="14.3" font-weight="normal" textLength="48.00" lengthAdjust="spacingAndGlyphs" fill="#1a1a1a">ABCD#</text>
<text x="459.16" y="458.70" font-size="14.3" font-weight="normal" textLength="27.27" lengthAdjust="spacingAndGlyphs" fill="#1a1a1a">AB#</text>
<text x="568.76" y="418.80" font-size="14.3" font-weight="normal" textLength="93.10" lengthAdjust="spacingAndGlyphs" fill="#1a1a1a">ABCD#-L609R</text>
<circle cx="619.90" cy="323.60" r="3.4" fill="#fff" stroke="#151515" stroke-width="1.15"/>
<text x="628.64" y="327.40" font-size="14.3" font-weight="normal" textLength="23.75" lengthAdjust="spacingAndGlyphs" fill="#1a1a1a">-Ca</text>
<text x="652.52" y="322.50" font-size="9.5" font-weight="normal" textLength="10.96" lengthAdjust="spacingAndGlyphs" fill="#1a1a1a">2+</text>
<circle cx="619.90" cy="340.80" r="3.4" fill="#bababa" stroke="#151515" stroke-width="1.15"/>
<text x="626.13" y="344.60" font-size="14.3" font-weight="normal" textLength="26.27" lengthAdjust="spacingAndGlyphs" fill="#1a1a1a">+Ca</text>
<text x="652.52" y="339.70" font-size="9.5" font-weight="normal" textLength="10.96" lengthAdjust="spacingAndGlyphs" fill="#1a1a1a">2+</text>
</svg>
</body></html>
